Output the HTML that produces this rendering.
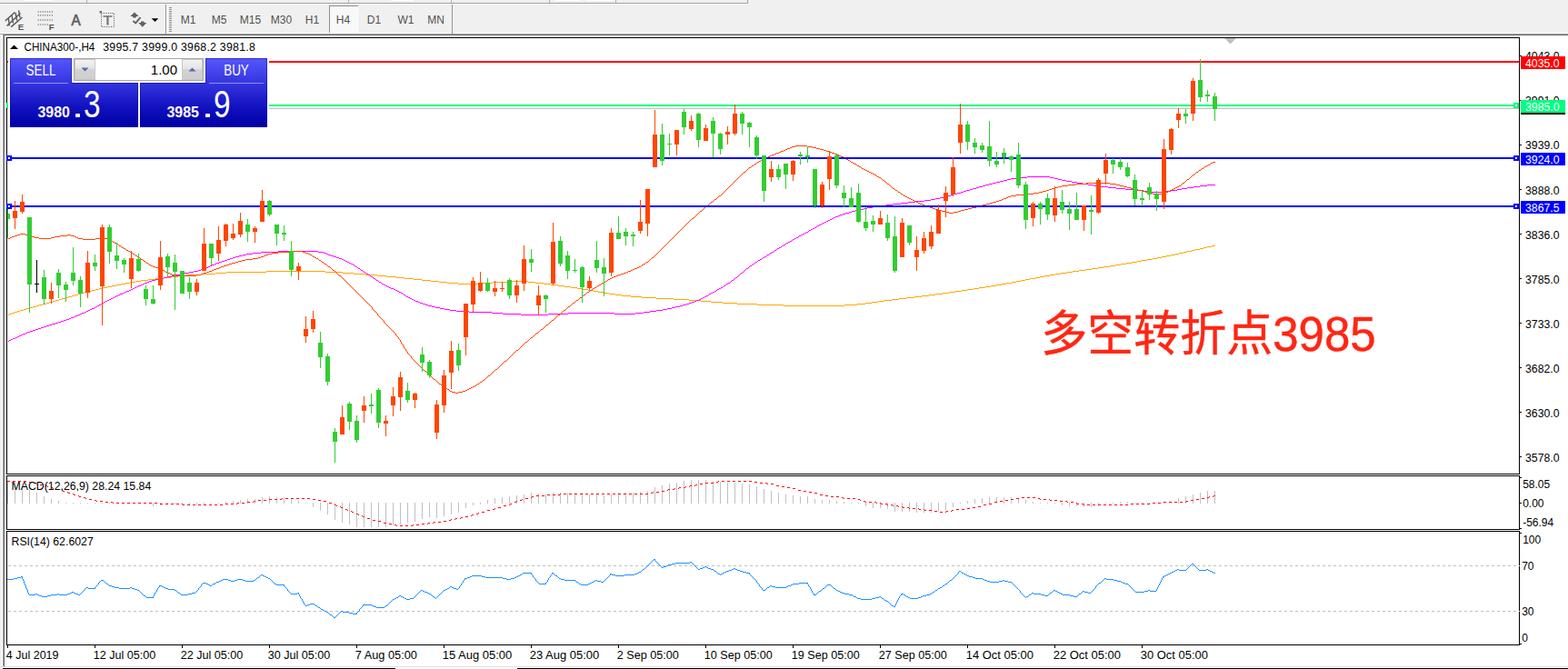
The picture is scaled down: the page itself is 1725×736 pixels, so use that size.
<!DOCTYPE html>
<html><head><meta charset="utf-8"><title>CHINA300 H4</title>
<style>
html,body{margin:0;padding:0;background:#fff;}
body{width:1725px;height:736px;position:relative;overflow:hidden;font-family:"Liberation Sans",sans-serif;}
.abs{position:absolute;}
.pane{position:absolute;left:7px;width:1665px;box-sizing:border-box;border:1px solid #000;background:#fff;}
.blu{background:linear-gradient(#5656fb 0%,#4646ee 18%,#2c2cd8 45%,#1212c0 70%,#0000a4 100%);background-size:100% 76px;background-repeat:no-repeat;color:#fff;}
</style></head><body>
<div class="abs" style="left:0;top:0;width:1725px;height:37px;background:#f0f0f0"></div>
<div class="abs" style="left:0;top:36px;width:1725px;height:1px;background:#fbfbfb"></div>
<div class="abs" style="left:0;top:37px;width:1725px;height:1px;background:#a0a0a0"></div>
<div class="abs" style="left:0;top:39px;width:2px;height:697px;background:#f0f0f0"></div>
<div class="abs" style="left:4px;top:38px;width:1721px;height:1px;background:#696969"></div>
<div class="abs" style="left:3px;top:38px;width:1px;height:695px;background:#a0a0a0"></div>
<div class="abs" style="left:4px;top:38px;width:1px;height:695px;background:#696969"></div>
<div class="abs" style="left:0;top:733px;width:1725px;height:1px;background:#e0e0e0"></div>
<div class="abs" style="left:3px;top:735px;width:432px;height:1px;background:#000"></div>
<div class="abs" style="left:569px;top:735px;width:1156px;height:1px;background:#000"></div>
<svg width="1725" height="37" viewBox="0 0 1725 37" style="position:absolute;left:0;top:0"><g stroke="#585858" stroke-width="1.4" fill="none"><path d="M5.7 23.1L16.3 13.5M7.5 28.5L22.5 14.5M12.2 29.6L24.5 19M9.3 20L10.3 28.5M13 17L14.5 25.5M17 14L18.6 22.5M20.6 11.3L22 19.5"/></g><text x="19.8" y="32.6" font-family="Liberation Sans, sans-serif" font-weight="bold" font-size="9.6px" fill="#505050">E</text><g stroke="#707070" stroke-width="1.5" stroke-dasharray="1 1.53" fill="none"><path d="M41.7 12.9H58.5M41.7 16.8H58.5M41.7 21.9H58.5M41.7 27H53.5"/></g><text x="53.8" y="32.6" font-family="Liberation Sans, sans-serif" font-weight="bold" font-size="9.6px" fill="#505050">F</text><text x="0" y="0" transform="translate(78.4,27.6) scale(0.93,1)" font-family="Liberation Sans, sans-serif" font-size="16.4px" fill="#606060" stroke="#606060" stroke-width="0.7">A</text><rect x="111.5" y="14.5" width="14" height="15" fill="none" stroke="#505050" stroke-width="1" stroke-dasharray="1 1.42"/><path d="M113.5 17.2H123.5V18.8H119.5V27.5H117.4V18.8H113.5Z" fill="#707070"/><rect x="109.5" y="12" width="2.5" height="2.5" fill="#707070"/><path d="M148 13.5L152.7 18H149.8V19.6H146.2V18H143.3Z" fill="#606060"/><path d="M156.8 29.8L152.3 25H155V23.6H158.6V25H161.3Z" fill="#606060"/><path d="M146.4 23L149.2 25.4L154.5 19.1" stroke="#606060" stroke-width="1.8" fill="none"/><path d="M166.7 20.2H174.3L170.5 24Z" fill="#000"/><rect x="182" y="5" width="1" height="32" fill="#909090"/><rect x="183" y="5" width="1" height="32" fill="#fff"/><path d="M187.5 8V35" stroke="#909090" stroke-width="3" stroke-dasharray="1 1" shape-rendering="crispEdges"/><rect x="497" y="5" width="1" height="32" fill="#909090"/><rect x="498" y="5" width="1" height="32" fill="#fff"/><g shape-rendering="crispEdges"><rect x="363" y="7" width="30" height="28" fill="#f8f8f8"/><rect x="362" y="6" width="1" height="30" fill="#909090"/><rect x="362" y="6" width="32" height="1" fill="#909090"/><rect x="393" y="7" width="1" height="29" fill="#fff"/><rect x="363" y="35" width="31" height="1" fill="#fff"/></g><g font-family="Liberation Sans, sans-serif" font-size="12px" fill="#505050" text-anchor="middle"><text x="207" y="26">M1</text><text x="241" y="26">M5</text><text x="275.5" y="26">M15</text><text x="309.5" y="26">M30</text><text x="343.5" y="26">H1</text><text x="377.5" y="26">H4</text><text x="411.5" y="26">D1</text><text x="446.5" y="26">W1</text><text x="479.5" y="26">MN</text></g><g shape-rendering="crispEdges"><rect x="0" y="3" width="823" height="1" fill="#a0a0a0"/><rect x="0" y="4" width="823" height="1" fill="#fafafa"/><rect x="822" y="0" width="1" height="4" fill="#a0a0a0"/><rect x="26" y="0" width="32" height="1" fill="#fff"/><rect x="430" y="0" width="26" height="1" fill="#fff"/><rect x="609" y="0" width="30" height="1" fill="#fff"/><rect x="644" y="0" width="30" height="1" fill="#fff"/><rect x="95" y="0" width="1" height="3" fill="#b0b0b0"/><rect x="383" y="0" width="1" height="3" fill="#b0b0b0"/><rect x="496" y="0" width="1" height="3" fill="#b0b0b0"/><rect x="604" y="0" width="1" height="3" fill="#b0b0b0"/><rect x="677" y="0" width="1" height="3" fill="#b0b0b0"/></g></svg>
<div class="pane" style="top:41px;height:481px"></div>
<div class="pane" style="top:523px;height:60px"></div>
<div class="pane" style="top:584px;height:126px"></div>
<svg width="1725" height="736" viewBox="0 0 1725 736" style="position:absolute;left:0;top:0"><defs><clipPath id="cm"><rect x="8" y="42" width="1663" height="479"/></clipPath><clipPath id="cd"><rect x="8" y="524" width="1663" height="58"/></clipPath><clipPath id="cr"><rect x="8" y="585" width="1663" height="124"/></clipPath></defs><g clip-path="url(#cm)" fill="none" stroke-width="1" shape-rendering="crispEdges"><path d="M9 346h1v1h-1zM10 345h3v1h-3zM13 344h3v1h-3zM16 343h3v1h-3zM19 342h3v1h-3zM22 341h4v1h-4zM26 340h3v1h-3zM29 339h3v1h-3zM32 338h4v1h-4zM36 337h4v1h-4zM40 336h3v1h-3zM43 335h4v1h-4zM47 334h4v1h-4zM51 333h3v1h-3zM54 332h4v1h-4zM58 331h3v1h-3zM61 330h4v1h-4zM65 329h3v1h-3zM68 328h4v1h-4zM72 327h3v1h-3zM75 326h4v1h-4zM79 325h3v1h-3zM82 324h4v1h-4zM86 323h3v1h-3zM89 322h4v1h-4zM93 321h4v1h-4zM97 320h4v1h-4zM101 319h4v1h-4zM105 318h4v1h-4zM109 317h4v1h-4zM113 316h5v1h-5zM118 315h5v1h-5zM123 314h5v1h-5zM128 313h5v1h-5zM133 312h5v1h-5zM138 311h5v1h-5zM143 310h6v1h-6zM149 309h6v1h-6zM155 308h8v1h-8zM163 307h8v1h-8zM171 306h9v1h-9zM180 305h8v1h-8zM188 304h8v1h-8zM196 303h9v1h-9zM205 302h16v1h-16zM221 301h16v1h-16zM237 300h12v1h-12zM249 299h44v1h-44zM293 298h65v1h-65zM358 299h19v1h-19zM377 300h12v1h-12zM389 301h13v1h-13zM402 302h13v1h-13zM415 303h10v1h-10zM425 304h11v1h-11zM436 305h9v1h-9zM445 306h10v1h-10zM455 307h9v1h-9zM464 308h10v1h-10zM474 309h9v1h-9zM483 310h9v1h-9zM492 311h12v1h-12zM504 312h24v1h-24zM528 311h14v1h-14zM542 310h17v1h-17zM559 309h22v1h-22zM581 310h8v1h-8zM589 311h9v1h-9zM598 312h8v1h-8zM606 313h8v1h-8zM614 314h7v1h-7zM621 315h7v1h-7zM628 316h7v1h-7zM635 317h6v1h-6zM641 318h6v1h-6zM647 319h6v1h-6zM653 320h5v1h-5zM658 321h6v1h-6zM664 322h6v1h-6zM670 323h7v1h-7zM677 324h7v1h-7zM684 325h10v1h-10zM694 326h12v1h-12zM706 327h16v1h-16zM722 328h19v1h-19zM741 329h17v1h-17zM758 330h13v1h-13zM771 331h11v1h-11zM782 332h13v1h-13zM795 333h16v1h-16zM811 334h22v1h-22zM833 335h29v1h-29zM862 336h67v1h-67zM929 335h14v1h-14zM943 334h9v1h-9zM952 333h7v1h-7zM959 332h7v1h-7zM966 331h7v1h-7zM973 330h8v1h-8zM981 329h8v1h-8zM989 328h8v1h-8zM997 327h9v1h-9zM1006 326h8v1h-8zM1014 325h8v1h-8zM1022 324h7v1h-7zM1029 323h8v1h-8zM1037 322h7v1h-7zM1044 321h7v1h-7zM1051 320h7v1h-7zM1058 319h6v1h-6zM1064 318h7v1h-7zM1071 317h6v1h-6zM1077 316h7v1h-7zM1084 315h6v1h-6zM1090 314h6v1h-6zM1096 313h6v1h-6zM1102 312h5v1h-5zM1107 311h6v1h-6zM1113 310h5v1h-5zM1118 309h5v1h-5zM1123 308h5v1h-5zM1128 307h5v1h-5zM1133 306h6v1h-6zM1139 305h5v1h-5zM1144 304h5v1h-5zM1149 303h6v1h-6zM1155 302h6v1h-6zM1161 301h6v1h-6zM1167 300h7v1h-7zM1174 299h6v1h-6zM1180 298h7v1h-7zM1187 297h7v1h-7zM1194 296h7v1h-7zM1201 295h7v1h-7zM1208 294h6v1h-6zM1214 293h7v1h-7zM1221 292h6v1h-6zM1227 291h6v1h-6zM1233 290h6v1h-6zM1239 289h6v1h-6zM1245 288h6v1h-6zM1251 287h5v1h-5zM1256 286h6v1h-6zM1262 285h6v1h-6zM1268 284h5v1h-5zM1273 283h5v1h-5zM1278 282h5v1h-5zM1283 281h5v1h-5zM1288 280h5v1h-5zM1293 279h4v1h-4zM1297 278h5v1h-5zM1302 277h4v1h-4zM1306 276h5v1h-5zM1311 275h4v1h-4zM1315 274h5v1h-5zM1320 273h4v1h-4zM1324 272h4v1h-4zM1328 271h5v1h-5zM1333 270h4v1h-4z" fill="#ffa500" stroke="none"/><path d="M9 375h1v1h-1zM10 374h2v1h-2zM12 373h2v1h-2zM14 372h3v1h-3zM17 371h2v1h-2zM19 370h2v1h-2zM21 369h2v1h-2zM23 368h2v1h-2zM25 367h3v1h-3zM28 366h2v1h-2zM30 365h3v1h-3zM33 364h3v1h-3zM36 363h3v1h-3zM39 362h3v1h-3zM42 361h3v1h-3zM45 360h3v1h-3zM48 359h3v1h-3zM51 358h3v1h-3zM54 357h3v1h-3zM57 356h4v1h-4zM61 355h3v1h-3zM64 354h3v1h-3zM67 353h3v1h-3zM70 352h3v1h-3zM73 351h3v1h-3zM76 350h2v1h-2zM78 349h3v1h-3zM81 348h2v1h-2zM83 347h3v1h-3zM86 346h2v1h-2zM88 345h2v1h-2zM90 344h3v1h-3zM93 343h2v1h-2zM95 342h2v1h-2zM97 341h2v1h-2zM99 340h2v1h-2zM101 339h3v1h-3zM104 338h1v1h-1zM105 337h2v1h-2zM107 336h2v1h-2zM109 335h2v1h-2zM111 334h2v1h-2zM113 333h1v1h-1zM114 332h2v1h-2zM116 331h2v1h-2zM118 330h2v1h-2zM120 329h2v1h-2zM122 328h2v1h-2zM124 327h2v1h-2zM126 326h2v1h-2zM128 325h2v1h-2zM130 324h2v1h-2zM132 323h3v1h-3zM135 322h2v1h-2zM137 321h2v1h-2zM139 320h3v1h-3zM142 319h2v1h-2zM144 318h2v1h-2zM146 317h2v1h-2zM148 316h2v1h-2zM150 315h2v1h-2zM152 314h3v1h-3zM155 313h2v1h-2zM157 312h2v1h-2zM159 311h3v1h-3zM162 310h2v1h-2zM164 309h3v1h-3zM167 308h4v1h-4zM171 307h4v1h-4zM175 306h5v1h-5zM180 305h4v1h-4zM184 304h5v1h-5zM189 303h4v1h-4zM193 302h5v1h-5zM198 301h5v1h-5zM203 300h5v1h-5zM208 299h5v1h-5zM213 298h5v1h-5zM218 297h3v1h-3zM221 296h3v1h-3zM224 295h3v1h-3zM227 294h2v1h-2zM229 293h2v1h-2zM231 292h2v1h-2zM233 291h3v1h-3zM236 290h2v1h-2zM238 289h3v1h-3zM241 288h3v1h-3zM244 287h3v1h-3zM247 286h3v1h-3zM250 285h3v1h-3zM253 284h3v1h-3zM256 283h3v1h-3zM259 282h4v1h-4zM263 281h4v1h-4zM267 280h4v1h-4zM271 279h7v1h-7zM278 278h9v1h-9zM287 277h19v1h-19zM306 276h44v1h-44zM350 277h6v1h-6zM356 278h3v1h-3zM359 279h2v1h-2zM361 280h3v1h-3zM364 281h3v1h-3zM367 282h3v1h-3zM370 283h3v1h-3zM373 284h3v1h-3zM376 285h2v1h-2zM378 286h2v1h-2zM380 287h2v1h-2zM382 288h2v1h-2zM384 289h2v1h-2zM386 290h2v1h-2zM388 291h2v1h-2zM390 292h1v1h-1zM391 293h2v1h-2zM393 294h1v1h-1zM394 295h2v1h-2zM396 296h1v1h-1zM397 297h2v1h-2zM399 298h1v1h-1zM400 299h2v1h-2zM402 300h1v1h-1zM403 301h2v1h-2zM405 302h2v1h-2zM407 303h1v1h-1zM408 304h2v1h-2zM410 305h1v1h-1zM411 306h2v1h-2zM413 307h1v1h-1zM414 308h2v1h-2zM416 309h1v1h-1zM417 310h2v1h-2zM419 311h1v1h-1zM420 312h2v1h-2zM422 313h2v1h-2zM424 314h2v1h-2zM426 315h2v1h-2zM428 316h2v1h-2zM430 317h3v1h-3zM433 318h2v1h-2zM435 319h2v1h-2zM437 320h2v1h-2zM439 321h2v1h-2zM441 322h2v1h-2zM443 323h1v1h-1zM444 324h2v1h-2zM446 325h1v1h-1zM447 326h2v1h-2zM449 327h2v1h-2zM451 328h2v1h-2zM453 329h2v1h-2zM455 330h2v1h-2zM457 331h3v1h-3zM460 332h2v1h-2zM462 333h3v1h-3zM465 334h3v1h-3zM468 335h3v1h-3zM471 336h4v1h-4zM475 337h4v1h-4zM479 338h5v1h-5zM484 339h5v1h-5zM489 340h6v1h-6zM495 341h7v1h-7zM502 342h14v1h-14zM516 343h25v1h-25zM541 344h12v1h-12zM553 345h20v1h-20zM573 346h30v1h-30zM603 345h22v1h-22zM625 344h51v1h-51zM676 345h23v1h-23zM699 344h9v1h-9zM708 343h7v1h-7zM715 342h7v1h-7zM722 341h7v1h-7zM729 340h5v1h-5zM734 339h5v1h-5zM739 338h4v1h-4zM743 337h5v1h-5zM748 336h3v1h-3zM751 335h4v1h-4zM755 334h3v1h-3zM758 333h3v1h-3zM761 332h3v1h-3zM764 331h2v1h-2zM766 330h3v1h-3zM769 329h2v1h-2zM771 328h2v1h-2zM773 327h2v1h-2zM775 326h2v1h-2zM777 325h2v1h-2zM779 324h1v1h-1zM780 323h2v1h-2zM782 322h2v1h-2zM784 321h2v1h-2zM786 320h2v1h-2zM788 319h1v1h-1zM789 318h2v1h-2zM791 317h2v1h-2zM793 316h2v1h-2zM795 315h1v1h-1zM796 314h2v1h-2zM798 313h1v1h-1zM799 312h2v1h-2zM801 311h2v1h-2zM803 310h1v1h-1zM804 309h1v1h-1zM805 308h2v1h-2zM807 307h1v1h-1zM808 306h1v1h-1zM809 305h2v1h-2zM811 304h1v1h-1zM812 303h1v1h-1zM813 302h1v1h-1zM814 301h1v1h-1zM815 300h2v1h-2zM817 299h1v1h-1zM818 298h1v1h-1zM819 297h1v1h-1zM820 296h1v1h-1zM821 295h2v1h-2zM823 294h1v1h-1zM824 293h1v1h-1zM825 292h2v1h-2zM827 291h1v1h-1zM828 290h2v1h-2zM830 289h1v1h-1zM831 288h2v1h-2zM833 287h1v1h-1zM834 286h2v1h-2zM836 285h2v1h-2zM838 284h1v1h-1zM839 283h2v1h-2zM841 282h2v1h-2zM843 281h1v1h-1zM844 280h2v1h-2zM846 279h1v1h-1zM847 278h2v1h-2zM849 277h2v1h-2zM851 276h1v1h-1zM852 275h2v1h-2zM854 274h1v1h-1zM855 273h2v1h-2zM857 272h2v1h-2zM859 271h1v1h-1zM860 270h2v1h-2zM862 269h2v1h-2zM864 268h1v1h-1zM865 267h2v1h-2zM867 266h2v1h-2zM869 265h2v1h-2zM871 264h1v1h-1zM872 263h2v1h-2zM874 262h2v1h-2zM876 261h2v1h-2zM878 260h1v1h-1zM879 259h2v1h-2zM881 258h2v1h-2zM883 257h2v1h-2zM885 256h2v1h-2zM887 255h2v1h-2zM889 254h1v1h-1zM890 253h2v1h-2zM892 252h2v1h-2zM894 251h2v1h-2zM896 250h2v1h-2zM898 249h1v1h-1zM899 248h2v1h-2zM901 247h2v1h-2zM903 246h2v1h-2zM905 245h2v1h-2zM907 244h2v1h-2zM909 243h2v1h-2zM911 242h2v1h-2zM913 241h2v1h-2zM915 240h2v1h-2zM917 239h2v1h-2zM919 238h3v1h-3zM922 237h2v1h-2zM924 236h3v1h-3zM927 235h3v1h-3zM930 234h4v1h-4zM934 233h3v1h-3zM937 232h4v1h-4zM941 231h4v1h-4zM945 230h5v1h-5zM950 229h4v1h-4zM954 228h6v1h-6zM960 227h7v1h-7zM967 226h8v1h-8zM975 225h7v1h-7zM982 224h9v1h-9zM991 223h8v1h-8zM999 222h8v1h-8zM1007 221h10v1h-10zM1017 220h7v1h-7zM1024 219h5v1h-5zM1029 218h5v1h-5zM1034 217h4v1h-4zM1038 216h4v1h-4zM1042 215h4v1h-4zM1046 214h3v1h-3zM1049 213h4v1h-4zM1053 212h4v1h-4zM1057 211h3v1h-3zM1060 210h3v1h-3zM1063 209h4v1h-4zM1067 208h3v1h-3zM1070 207h4v1h-4zM1074 206h3v1h-3zM1077 205h4v1h-4zM1081 204h3v1h-3zM1084 203h4v1h-4zM1088 202h4v1h-4zM1092 201h4v1h-4zM1096 200h4v1h-4zM1100 199h4v1h-4zM1104 198h4v1h-4zM1108 197h4v1h-4zM1112 196h7v1h-7zM1119 195h11v1h-11zM1130 194h25v1h-25zM1155 195h5v1h-5zM1160 196h4v1h-4zM1164 197h4v1h-4zM1168 198h5v1h-5zM1173 199h6v1h-6zM1179 200h6v1h-6zM1185 201h6v1h-6zM1191 202h6v1h-6zM1197 203h6v1h-6zM1203 204h7v1h-7zM1210 205h9v1h-9zM1219 206h9v1h-9zM1228 207h10v1h-10zM1238 208h10v1h-10zM1248 209h10v1h-10zM1258 210h6v1h-6zM1264 211h18v1h-18zM1282 210h6v1h-6zM1288 209h7v1h-7zM1295 208h5v1h-5zM1300 207h6v1h-6zM1306 206h7v1h-7zM1313 205h7v1h-7zM1320 204h8v1h-8zM1328 203h9v1h-9z" fill="#ff00ff" stroke="none"/><path d="M9 262h2v1h-2zM11 261h2v1h-2zM13 260h3v1h-3zM16 259h3v1h-3zM19 258h3v1h-3zM22 257h6v1h-6zM28 258h3v1h-3zM31 259h3v1h-3zM34 260h4v1h-4zM38 261h5v1h-5zM43 262h13v1h-13zM56 261h4v1h-4zM60 260h6v1h-6zM66 259h8v1h-8zM74 258h4v1h-4zM78 259h4v1h-4zM82 260h2v1h-2zM84 261h2v1h-2zM86 262h5v1h-5zM91 263h14v1h-14zM105 262h14v1h-14zM119 263h2v1h-2zM121 264h2v1h-2zM123 265h1v1h-1zM124 266h2v1h-2zM126 267h2v1h-2zM128 268h2v1h-2zM130 269h1v1h-1zM131 270h2v1h-2zM133 271h1v1h-1zM134 272h2v1h-2zM136 273h2v1h-2zM138 274h1v1h-1zM139 275h2v1h-2zM141 276h2v1h-2zM143 277h2v1h-2zM145 278h1v1h-1zM146 279h2v1h-2zM148 280h1v1h-1zM149 281h2v1h-2zM151 282h2v1h-2zM153 283h1v1h-1zM154 284h1v1h-1zM155 285h2v1h-2zM157 286h1v1h-1zM158 287h2v1h-2zM160 288h1v1h-1zM161 289h2v1h-2zM163 290h1v1h-1zM164 291h2v1h-2zM166 292h2v1h-2zM168 293h3v1h-3zM171 294h3v1h-3zM174 295h3v1h-3zM177 296h2v1h-2zM179 297h2v1h-2zM181 298h1v1h-1zM182 299h2v1h-2zM184 300h3v1h-3zM187 301h2v1h-2zM189 302h4v1h-4zM193 303h23v1h-23zM216 302h5v1h-5zM221 301h3v1h-3zM224 300h3v1h-3zM227 299h3v1h-3zM230 298h3v1h-3zM233 297h2v1h-2zM235 296h3v1h-3zM238 295h3v1h-3zM241 294h2v1h-2zM243 293h3v1h-3zM246 292h3v1h-3zM249 291h3v1h-3zM252 290h3v1h-3zM255 289h4v1h-4zM259 288h3v1h-3zM262 287h4v1h-4zM266 286h4v1h-4zM270 285h8v1h-8zM278 284h6v1h-6zM284 283h3v1h-3zM287 282h3v1h-3zM290 281h2v1h-2zM292 280h3v1h-3zM295 279h4v1h-4zM299 278h7v1h-7zM306 277h13v1h-13zM319 276h14v1h-14zM333 277h3v1h-3zM336 278h3v1h-3zM339 279h2v1h-2zM341 280h2v1h-2zM343 281h1v1h-1zM344 282h2v1h-2zM346 283h2v1h-2zM348 284h2v1h-2zM350 285h1v1h-1zM351 286h2v1h-2zM353 287h1v1h-1zM354 288h2v1h-2zM356 289h1v1h-1zM357 290h2v1h-2zM359 291h1v1h-1zM360 292h1v1h-1zM361 293h2v1h-2zM363 294h1v1h-1zM364 295h1v1h-1zM365 296h1v1h-1zM366 297h2v1h-2zM368 298h1v1h-1zM369 299h1v1h-1zM370 300h1v1h-1zM371 301h1v1h-1zM372 302h1v1h-1zM373 303h2v1h-2zM375 304h1v1h-1zM376 305h1v1h-1zM377 306h1v1h-1zM378 307h1v1h-1zM379 308h1v1h-1zM380 309h1v1h-1zM381 310h1v1h-1zM382 311h1v1h-1zM383 312h1v1h-1zM384 313h1v1h-1zM385 314h1v1h-1zM386 315h1v1h-1zM387 316h1v1h-1zM388 317h1v1h-1zM389 318h1v1h-1zM390 319h1v1h-1zM391 320h1v1h-1zM392 321h1v1h-1zM393 322h1v1h-1zM394 323h1v1h-1zM395 324h1v1h-1zM396 325h1v1h-1zM397 326h1v1h-1zM398 327h1v1h-1zM399 328h1v1h-1zM400 329h1v1h-1zM401 330h1v1h-1zM402 331h1v1h-1zM403 332h1v1h-1zM404 333h1v1h-1zM405 334h1v1h-1zM406 335h1v1h-1zM407 336h1v1h-1zM408 337h1v1h-1zM409 338h1v2h-1zM410 340h1v1h-1zM411 341h1v1h-1zM412 342h1v1h-1zM413 343h1v1h-1zM414 344h1v1h-1zM415 345h1v2h-1zM416 347h1v1h-1zM417 348h1v1h-1zM418 349h1v1h-1zM419 350h1v1h-1zM420 351h1v1h-1zM421 352h1v1h-1zM422 353h1v2h-1zM423 355h1v1h-1zM424 356h1v1h-1zM425 357h1v1h-1zM426 358h1v1h-1zM427 359h1v1h-1zM428 360h1v1h-1zM429 361h1v1h-1zM430 362h1v1h-1zM431 363h1v1h-1zM432 364h1v1h-1zM433 365h1v1h-1zM434 366h1v1h-1zM435 367h1v2h-1zM436 369h1v1h-1zM437 370h1v1h-1zM438 371h1v2h-1zM439 373h1v1h-1zM440 374h1v2h-1zM441 376h1v2h-1zM442 378h1v1h-1zM443 379h1v2h-1zM444 381h1v2h-1zM445 383h1v1h-1zM446 384h1v2h-1zM447 386h1v1h-1zM448 387h1v2h-1zM449 389h1v1h-1zM450 390h1v1h-1zM451 391h1v1h-1zM452 392h1v2h-1zM453 394h1v1h-1zM454 395h1v1h-1zM455 396h1v1h-1zM456 397h1v1h-1zM457 398h1v1h-1zM458 399h1v1h-1zM459 400h1v1h-1zM460 401h1v1h-1zM461 402h1v1h-1zM462 403h1v1h-1zM463 404h1v1h-1zM464 405h1v1h-1zM465 406h1v1h-1zM466 407h1v1h-1zM467 408h2v1h-2zM469 409h1v1h-1zM470 410h1v1h-1zM471 411h1v1h-1zM472 412h1v1h-1zM473 413h1v1h-1zM474 414h1v1h-1zM475 415h1v1h-1zM476 416h1v1h-1zM477 417h2v1h-2zM479 418h1v1h-1zM480 419h1v1h-1zM481 420h1v1h-1zM482 421h1v1h-1zM483 422h2v1h-2zM485 423h1v1h-1zM486 424h1v1h-1zM487 425h2v1h-2zM489 426h1v1h-1zM490 427h2v1h-2zM492 428h2v1h-2zM494 429h1v1h-1zM495 430h2v1h-2zM497 431h4v1h-4zM501 432h3v1h-3zM504 431h5v1h-5zM509 430h3v1h-3zM512 429h2v1h-2zM514 428h2v1h-2zM516 427h2v1h-2zM518 426h2v1h-2zM520 425h2v1h-2zM522 424h2v1h-2zM524 423h1v1h-1zM525 422h2v1h-2zM527 421h1v1h-1zM528 420h2v1h-2zM530 419h1v1h-1zM531 418h2v1h-2zM533 417h1v1h-1zM534 416h1v1h-1zM535 415h1v1h-1zM536 414h1v1h-1zM537 413h2v1h-2zM539 412h1v1h-1zM540 411h1v1h-1zM541 410h1v1h-1zM542 409h1v1h-1zM543 408h1v1h-1zM544 407h1v1h-1zM545 406h2v1h-2zM547 405h1v1h-1zM548 404h1v1h-1zM549 403h1v1h-1zM550 402h1v1h-1zM551 401h1v1h-1zM552 400h1v1h-1zM553 399h1v1h-1zM554 398h1v1h-1zM555 397h2v1h-2zM557 396h1v1h-1zM558 395h1v1h-1zM559 394h1v1h-1zM560 393h1v1h-1zM561 392h1v1h-1zM562 391h1v1h-1zM563 390h1v1h-1zM564 389h1v1h-1zM565 388h1v1h-1zM566 387h1v1h-1zM567 386h1v1h-1zM568 385h2v1h-2zM570 384h1v1h-1zM571 383h1v1h-1zM572 382h1v1h-1zM573 381h1v1h-1zM574 380h1v1h-1zM575 379h1v1h-1zM576 378h1v1h-1zM577 377h1v1h-1zM578 376h2v1h-2zM580 375h1v1h-1zM581 374h1v1h-1zM582 373h1v1h-1zM583 372h1v1h-1zM584 371h2v1h-2zM586 370h1v1h-1zM587 369h1v1h-1zM588 368h1v1h-1zM589 367h1v1h-1zM590 366h2v1h-2zM592 365h1v1h-1zM593 364h1v1h-1zM594 363h1v1h-1zM595 362h2v1h-2zM597 361h1v1h-1zM598 360h1v1h-1zM599 359h1v1h-1zM600 358h1v1h-1zM601 357h2v1h-2zM603 356h1v1h-1zM604 355h1v1h-1zM605 354h1v1h-1zM606 353h1v1h-1zM607 352h2v1h-2zM609 351h1v1h-1zM610 350h1v1h-1zM611 349h1v1h-1zM612 348h1v1h-1zM613 347h1v1h-1zM614 346h2v1h-2zM616 345h1v1h-1zM617 344h1v1h-1zM618 343h1v1h-1zM619 342h1v1h-1zM620 341h2v1h-2zM622 340h1v1h-1zM623 339h1v1h-1zM624 338h1v1h-1zM625 337h2v1h-2zM627 336h1v1h-1zM628 335h1v1h-1zM629 334h1v1h-1zM630 333h2v1h-2zM632 332h1v1h-1zM633 331h1v1h-1zM634 330h2v1h-2zM636 329h1v1h-1zM637 328h1v1h-1zM638 327h2v1h-2zM640 326h1v1h-1zM641 325h1v1h-1zM642 324h2v1h-2zM644 323h1v1h-1zM645 322h1v1h-1zM646 321h2v1h-2zM648 320h1v1h-1zM649 319h2v1h-2zM651 318h1v1h-1zM652 317h2v1h-2zM654 316h2v1h-2zM656 315h1v1h-1zM657 314h2v1h-2zM659 313h2v1h-2zM661 312h1v1h-1zM662 311h2v1h-2zM664 310h2v1h-2zM666 309h2v1h-2zM668 308h1v1h-1zM669 307h2v1h-2zM671 306h2v1h-2zM673 305h2v1h-2zM675 304h3v1h-3zM678 303h2v1h-2zM680 302h3v1h-3zM683 301h3v1h-3zM686 300h3v1h-3zM689 299h2v1h-2zM691 298h3v1h-3zM694 297h2v1h-2zM696 296h2v1h-2zM698 295h3v1h-3zM701 294h2v1h-2zM703 293h2v1h-2zM705 292h1v1h-1zM706 291h2v1h-2zM708 290h2v1h-2zM710 289h1v1h-1zM711 288h2v1h-2zM713 287h1v1h-1zM714 286h1v1h-1zM715 285h1v1h-1zM716 284h1v1h-1zM717 283h2v1h-2zM719 282h1v1h-1zM720 281h1v1h-1zM721 280h1v1h-1zM722 279h1v1h-1zM723 278h1v1h-1zM724 277h1v1h-1zM725 276h1v1h-1zM726 275h1v1h-1zM727 274h1v1h-1zM728 273h1v1h-1zM729 272h1v1h-1zM730 271h1v1h-1zM731 270h1v1h-1zM732 269h1v1h-1zM733 268h1v1h-1zM734 267h1v1h-1zM735 266h1v1h-1zM736 265h1v1h-1zM737 264h1v1h-1zM738 263h1v1h-1zM739 262h1v1h-1zM740 261h1v1h-1zM741 260h1v1h-1zM742 259h1v1h-1zM743 258h1v1h-1zM744 257h1v1h-1zM745 256h1v1h-1zM746 255h1v1h-1zM747 254h1v1h-1zM748 253h1v1h-1zM749 252h1v1h-1zM750 251h1v1h-1zM751 250h1v1h-1zM752 249h1v1h-1zM753 248h1v1h-1zM754 247h1v1h-1zM755 246h1v1h-1zM756 245h1v1h-1zM757 244h1v1h-1zM758 243h1v1h-1zM759 242h1v1h-1zM760 241h1v1h-1zM761 240h2v1h-2zM763 239h1v1h-1zM764 238h1v1h-1zM765 237h1v1h-1zM766 236h1v1h-1zM767 235h1v1h-1zM768 234h1v1h-1zM769 233h1v1h-1zM770 232h2v1h-2zM772 231h1v1h-1zM773 230h1v1h-1zM774 229h1v1h-1zM775 228h1v1h-1zM776 227h1v1h-1zM777 226h2v1h-2zM779 225h1v1h-1zM780 224h1v1h-1zM781 223h1v1h-1zM782 222h2v1h-2zM784 221h1v1h-1zM785 220h1v1h-1zM786 219h2v1h-2zM788 218h1v1h-1zM789 217h1v1h-1zM790 216h1v1h-1zM791 215h2v1h-2zM793 214h1v1h-1zM794 213h1v1h-1zM795 212h1v1h-1zM796 211h1v1h-1zM797 210h1v1h-1zM798 209h1v1h-1zM799 208h1v1h-1zM800 207h1v1h-1zM801 206h1v1h-1zM802 205h1v1h-1zM803 204h1v1h-1zM804 203h1v1h-1zM805 202h1v1h-1zM806 201h1v1h-1zM807 200h1v1h-1zM808 199h1v1h-1zM809 198h1v1h-1zM810 197h1v1h-1zM811 196h1v1h-1zM812 195h1v1h-1zM813 194h1v1h-1zM814 193h1v1h-1zM815 192h1v1h-1zM816 191h1v1h-1zM817 190h1v1h-1zM818 189h2v1h-2zM820 188h1v1h-1zM821 187h1v1h-1zM822 186h1v1h-1zM823 185h1v1h-1zM824 184h2v1h-2zM826 183h1v1h-1zM827 182h2v1h-2zM829 181h1v1h-1zM830 180h2v1h-2zM832 179h1v1h-1zM833 178h2v1h-2zM835 177h2v1h-2zM837 176h2v1h-2zM839 175h2v1h-2zM841 174h2v1h-2zM843 173h2v1h-2zM845 172h2v1h-2zM847 171h2v1h-2zM849 170h3v1h-3zM852 169h2v1h-2zM854 168h3v1h-3zM857 167h2v1h-2zM859 166h3v1h-3zM862 165h2v1h-2zM864 164h2v1h-2zM866 163h3v1h-3zM869 162h2v1h-2zM871 161h4v1h-4zM875 160h13v1h-13zM888 161h6v1h-6zM894 162h4v1h-4zM898 163h4v1h-4zM902 164h4v1h-4zM906 165h3v1h-3zM909 166h3v1h-3zM912 167h3v1h-3zM915 168h3v1h-3zM918 169h3v1h-3zM921 170h2v1h-2zM923 171h2v1h-2zM925 172h3v1h-3zM928 173h1v1h-1zM929 174h2v1h-2zM931 175h2v1h-2zM933 176h2v1h-2zM935 177h1v1h-1zM936 178h2v1h-2zM938 179h2v1h-2zM940 180h2v1h-2zM942 181h1v1h-1zM943 182h2v1h-2zM945 183h2v1h-2zM947 184h1v1h-1zM948 185h2v1h-2zM950 186h2v1h-2zM952 187h2v1h-2zM954 188h2v1h-2zM956 189h2v1h-2zM958 190h2v1h-2zM960 191h2v1h-2zM962 192h2v1h-2zM964 193h1v1h-1zM965 194h2v1h-2zM967 195h2v1h-2zM969 196h1v1h-1zM970 197h1v1h-1zM971 198h2v1h-2zM973 199h1v1h-1zM974 200h1v1h-1zM975 201h1v1h-1zM976 202h2v1h-2zM978 203h1v1h-1zM979 204h1v1h-1zM980 205h1v1h-1zM981 206h1v1h-1zM982 207h2v1h-2zM984 208h1v1h-1zM985 209h2v1h-2zM987 210h1v1h-1zM988 211h2v1h-2zM990 212h1v1h-1zM991 213h2v1h-2zM993 214h1v1h-1zM994 215h2v1h-2zM996 216h2v1h-2zM998 217h2v1h-2zM1000 218h2v1h-2zM1002 219h2v1h-2zM1004 220h2v1h-2zM1006 221h2v1h-2zM1008 222h2v1h-2zM1010 223h2v1h-2zM1012 224h3v1h-3zM1015 225h2v1h-2zM1017 226h3v1h-3zM1020 227h3v1h-3zM1023 228h3v1h-3zM1026 229h3v1h-3zM1029 230h3v1h-3zM1032 231h4v1h-4zM1036 232h4v1h-4zM1040 233h4v1h-4zM1044 234h5v1h-5zM1049 233h5v1h-5zM1054 232h3v1h-3zM1057 231h4v1h-4zM1061 230h4v1h-4zM1065 229h4v1h-4zM1069 228h5v1h-5zM1074 227h4v1h-4zM1078 226h3v1h-3zM1081 225h4v1h-4zM1085 224h4v1h-4zM1089 223h3v1h-3zM1092 222h4v1h-4zM1096 221h3v1h-3zM1099 220h3v1h-3zM1102 219h2v1h-2zM1104 218h3v1h-3zM1107 217h2v1h-2zM1109 216h3v1h-3zM1112 215h6v1h-6zM1118 214h12v1h-12zM1130 213h7v1h-7zM1137 212h6v1h-6zM1143 211h4v1h-4zM1147 210h4v1h-4zM1151 209h3v1h-3zM1154 208h3v1h-3zM1157 207h3v1h-3zM1160 206h4v1h-4zM1164 205h4v1h-4zM1168 204h7v1h-7zM1175 203h8v1h-8zM1183 202h12v1h-12zM1195 201h26v1h-26zM1221 202h7v1h-7zM1228 203h4v1h-4zM1232 204h4v1h-4zM1236 205h4v1h-4zM1240 206h4v1h-4zM1244 207h4v1h-4zM1248 208h4v1h-4zM1252 209h4v1h-4zM1256 210h4v1h-4zM1260 211h4v1h-4zM1264 212h4v1h-4zM1268 213h10v1h-10zM1278 212h4v1h-4zM1282 211h3v1h-3zM1285 210h2v1h-2zM1287 209h2v1h-2zM1289 208h2v1h-2zM1291 207h2v1h-2zM1293 206h2v1h-2zM1295 205h2v1h-2zM1297 204h2v1h-2zM1299 203h1v1h-1zM1300 202h1v1h-1zM1301 201h2v1h-2zM1303 200h1v1h-1zM1304 199h1v1h-1zM1305 198h1v1h-1zM1306 197h2v1h-2zM1308 196h1v1h-1zM1309 195h1v1h-1zM1310 194h1v1h-1zM1311 193h1v1h-1zM1312 192h2v1h-2zM1314 191h1v1h-1zM1315 190h1v1h-1zM1316 189h2v1h-2zM1318 188h1v1h-1zM1319 187h2v1h-2zM1321 186h1v1h-1zM1322 185h2v1h-2zM1324 184h1v1h-1zM1325 183h2v1h-2zM1327 182h2v1h-2zM1329 181h2v1h-2zM1331 180h1v1h-1zM1332 179h2v1h-2zM1334 178h3v1h-3z" fill="#ff4500" stroke="none"/></g><g clip-path="url(#cm)" shape-rendering="crispEdges"><rect x="8" y="119" width="1663" height="1" fill="#c0c0c0"/><rect x="8" y="67" width="1663" height="2" fill="#ff0000"/><rect x="8" y="115" width="1663" height="2" fill="#00ff7f"/><rect x="8" y="173" width="1663" height="2" fill="#0000ff"/><rect x="8" y="226" width="1663" height="2" fill="#0000ff"/></g><g clip-path="url(#cm)" shape-rendering="crispEdges"><rect x="8" y="227" width="1" height="35" fill="#32cd32"/><rect x="6" y="235" width="5" height="6" fill="#32cd32"/><rect x="16" y="221" width="1" height="31" fill="#ff4500"/><rect x="14" y="232" width="5" height="8" fill="#ff4500"/><rect x="24" y="214" width="1" height="21" fill="#ff4500"/><rect x="22" y="222" width="5" height="11" fill="#ff4500"/><rect x="32" y="239" width="1" height="105" fill="#32cd32"/><rect x="30" y="239" width="5" height="74" fill="#32cd32"/><rect x="40" y="286" width="1" height="36" fill="#000000"/><rect x="38" y="312" width="5" height="1" fill="#000000"/><rect x="48" y="297" width="1" height="38" fill="#32cd32"/><rect x="46" y="305" width="5" height="24" fill="#32cd32"/><rect x="56" y="311" width="1" height="23" fill="#ff4500"/><rect x="54" y="320" width="5" height="9" fill="#ff4500"/><rect x="64" y="296" width="1" height="32" fill="#32cd32"/><rect x="62" y="300" width="5" height="14" fill="#32cd32"/><rect x="72" y="310" width="1" height="22" fill="#32cd32"/><rect x="70" y="313" width="5" height="6" fill="#32cd32"/><rect x="80" y="272" width="1" height="42" fill="#32cd32"/><rect x="78" y="300" width="5" height="9" fill="#32cd32"/><rect x="88" y="304" width="1" height="34" fill="#32cd32"/><rect x="86" y="308" width="5" height="15" fill="#32cd32"/><rect x="96" y="276" width="1" height="52" fill="#ff4500"/><rect x="94" y="289" width="5" height="33" fill="#ff4500"/><rect x="104" y="280" width="1" height="18" fill="#32cd32"/><rect x="102" y="289" width="5" height="4" fill="#32cd32"/><rect x="112" y="247" width="1" height="111" fill="#ff4500"/><rect x="110" y="250" width="5" height="65" fill="#ff4500"/><rect x="120" y="247" width="1" height="43" fill="#32cd32"/><rect x="118" y="250" width="5" height="27" fill="#32cd32"/><rect x="128" y="267" width="1" height="29" fill="#32cd32"/><rect x="126" y="281" width="5" height="6" fill="#32cd32"/><rect x="136" y="284" width="1" height="16" fill="#32cd32"/><rect x="134" y="286" width="5" height="5" fill="#32cd32"/><rect x="144" y="276" width="1" height="41" fill="#ff4500"/><rect x="142" y="284" width="5" height="23" fill="#ff4500"/><rect x="152" y="279" width="1" height="20" fill="#32cd32"/><rect x="150" y="285" width="5" height="13" fill="#32cd32"/><rect x="160" y="314" width="1" height="22" fill="#32cd32"/><rect x="158" y="318" width="5" height="11" fill="#32cd32"/><rect x="168" y="314" width="1" height="21" fill="#32cd32"/><rect x="166" y="329" width="5" height="5" fill="#32cd32"/><rect x="176" y="265" width="1" height="54" fill="#ff4500"/><rect x="174" y="283" width="5" height="31" fill="#ff4500"/><rect x="184" y="279" width="1" height="25" fill="#32cd32"/><rect x="182" y="282" width="5" height="12" fill="#32cd32"/><rect x="192" y="280" width="1" height="61" fill="#32cd32"/><rect x="190" y="289" width="5" height="10" fill="#32cd32"/><rect x="200" y="298" width="1" height="25" fill="#32cd32"/><rect x="198" y="298" width="5" height="25" fill="#32cd32"/><rect x="208" y="305" width="1" height="24" fill="#32cd32"/><rect x="206" y="311" width="5" height="10" fill="#32cd32"/><rect x="216" y="307" width="1" height="18" fill="#ff4500"/><rect x="214" y="311" width="5" height="10" fill="#ff4500"/><rect x="224" y="251" width="1" height="47" fill="#ff4500"/><rect x="222" y="268" width="5" height="30" fill="#ff4500"/><rect x="232" y="268" width="1" height="24" fill="#32cd32"/><rect x="230" y="268" width="5" height="16" fill="#32cd32"/><rect x="240" y="249" width="1" height="38" fill="#ff4500"/><rect x="238" y="264" width="5" height="15" fill="#ff4500"/><rect x="248" y="246" width="1" height="25" fill="#ff4500"/><rect x="246" y="247" width="5" height="18" fill="#ff4500"/><rect x="256" y="246" width="1" height="18" fill="#ff4500"/><rect x="254" y="257" width="5" height="5" fill="#ff4500"/><rect x="264" y="234" width="1" height="27" fill="#ff4500"/><rect x="262" y="243" width="5" height="15" fill="#ff4500"/><rect x="272" y="241" width="1" height="25" fill="#32cd32"/><rect x="270" y="247" width="5" height="8" fill="#32cd32"/><rect x="280" y="249" width="1" height="18" fill="#ff4500"/><rect x="278" y="251" width="5" height="4" fill="#ff4500"/><rect x="288" y="209" width="1" height="35" fill="#ff4500"/><rect x="286" y="221" width="5" height="23" fill="#ff4500"/><rect x="296" y="220" width="1" height="18" fill="#32cd32"/><rect x="294" y="221" width="5" height="15" fill="#32cd32"/><rect x="304" y="247" width="1" height="23" fill="#32cd32"/><rect x="302" y="247" width="5" height="10" fill="#32cd32"/><rect x="312" y="248" width="1" height="17" fill="#32cd32"/><rect x="310" y="256" width="5" height="2" fill="#32cd32"/><rect x="320" y="265" width="1" height="39" fill="#32cd32"/><rect x="318" y="276" width="5" height="21" fill="#32cd32"/><rect x="328" y="289" width="1" height="19" fill="#ff4500"/><rect x="326" y="293" width="5" height="5" fill="#ff4500"/><rect x="336" y="348" width="1" height="29" fill="#ff4500"/><rect x="334" y="362" width="5" height="8" fill="#ff4500"/><rect x="344" y="342" width="1" height="24" fill="#ff4500"/><rect x="342" y="351" width="5" height="11" fill="#ff4500"/><rect x="352" y="365" width="1" height="40" fill="#32cd32"/><rect x="350" y="377" width="5" height="16" fill="#32cd32"/><rect x="360" y="389" width="1" height="35" fill="#32cd32"/><rect x="358" y="392" width="5" height="28" fill="#32cd32"/><rect x="368" y="471" width="1" height="38" fill="#32cd32"/><rect x="366" y="475" width="5" height="11" fill="#32cd32"/><rect x="376" y="446" width="1" height="32" fill="#ff4500"/><rect x="374" y="459" width="5" height="19" fill="#ff4500"/><rect x="384" y="442" width="1" height="31" fill="#32cd32"/><rect x="382" y="444" width="5" height="20" fill="#32cd32"/><rect x="392" y="457" width="1" height="30" fill="#32cd32"/><rect x="390" y="463" width="5" height="21" fill="#32cd32"/><rect x="400" y="436" width="1" height="29" fill="#ff4500"/><rect x="398" y="446" width="5" height="6" fill="#ff4500"/><rect x="408" y="433" width="1" height="22" fill="#32cd32"/><rect x="406" y="445" width="5" height="2" fill="#32cd32"/><rect x="416" y="427" width="1" height="44" fill="#32cd32"/><rect x="414" y="429" width="5" height="36" fill="#32cd32"/><rect x="424" y="457" width="1" height="23" fill="#ff4500"/><rect x="422" y="463" width="5" height="3" fill="#ff4500"/><rect x="432" y="426" width="1" height="32" fill="#ff4500"/><rect x="430" y="436" width="5" height="10" fill="#ff4500"/><rect x="440" y="409" width="1" height="43" fill="#ff4500"/><rect x="438" y="415" width="5" height="22" fill="#ff4500"/><rect x="448" y="421" width="1" height="22" fill="#32cd32"/><rect x="446" y="430" width="5" height="10" fill="#32cd32"/><rect x="456" y="432" width="1" height="17" fill="#ff4500"/><rect x="454" y="433" width="5" height="7" fill="#ff4500"/><rect x="464" y="382" width="1" height="27" fill="#32cd32"/><rect x="462" y="390" width="5" height="9" fill="#32cd32"/><rect x="472" y="396" width="1" height="20" fill="#32cd32"/><rect x="470" y="398" width="5" height="15" fill="#32cd32"/><rect x="480" y="440" width="1" height="43" fill="#ff4500"/><rect x="478" y="445" width="5" height="31" fill="#ff4500"/><rect x="488" y="407" width="1" height="47" fill="#ff4500"/><rect x="486" y="413" width="5" height="33" fill="#ff4500"/><rect x="496" y="375" width="1" height="53" fill="#ff4500"/><rect x="494" y="386" width="5" height="24" fill="#ff4500"/><rect x="504" y="378" width="1" height="30" fill="#32cd32"/><rect x="502" y="385" width="5" height="17" fill="#32cd32"/><rect x="512" y="334" width="1" height="57" fill="#ff4500"/><rect x="510" y="334" width="5" height="37" fill="#ff4500"/><rect x="520" y="305" width="1" height="38" fill="#ff4500"/><rect x="518" y="309" width="5" height="26" fill="#ff4500"/><rect x="528" y="299" width="1" height="22" fill="#ff4500"/><rect x="526" y="311" width="5" height="9" fill="#ff4500"/><rect x="536" y="306" width="1" height="15" fill="#32cd32"/><rect x="534" y="311" width="5" height="9" fill="#32cd32"/><rect x="544" y="309" width="1" height="17" fill="#ff4500"/><rect x="542" y="317" width="5" height="4" fill="#ff4500"/><rect x="552" y="310" width="1" height="11" fill="#ff4500"/><rect x="550" y="317" width="5" height="1" fill="#ff4500"/><rect x="560" y="306" width="1" height="23" fill="#32cd32"/><rect x="558" y="308" width="5" height="17" fill="#32cd32"/><rect x="568" y="308" width="1" height="25" fill="#ff4500"/><rect x="566" y="314" width="5" height="11" fill="#ff4500"/><rect x="576" y="270" width="1" height="50" fill="#ff4500"/><rect x="574" y="285" width="5" height="27" fill="#ff4500"/><rect x="584" y="274" width="1" height="25" fill="#32cd32"/><rect x="582" y="285" width="5" height="4" fill="#32cd32"/><rect x="592" y="314" width="1" height="33" fill="#ff4500"/><rect x="590" y="325" width="5" height="11" fill="#ff4500"/><rect x="600" y="324" width="1" height="20" fill="#32cd32"/><rect x="598" y="325" width="5" height="4" fill="#32cd32"/><rect x="608" y="245" width="1" height="69" fill="#ff4500"/><rect x="606" y="266" width="5" height="46" fill="#ff4500"/><rect x="616" y="260" width="1" height="33" fill="#32cd32"/><rect x="614" y="265" width="5" height="25" fill="#32cd32"/><rect x="624" y="276" width="1" height="31" fill="#32cd32"/><rect x="622" y="281" width="5" height="17" fill="#32cd32"/><rect x="632" y="285" width="1" height="15" fill="#32cd32"/><rect x="630" y="297" width="5" height="1" fill="#32cd32"/><rect x="640" y="293" width="1" height="40" fill="#32cd32"/><rect x="638" y="294" width="5" height="22" fill="#32cd32"/><rect x="648" y="304" width="1" height="15" fill="#ff4500"/><rect x="646" y="309" width="5" height="8" fill="#ff4500"/><rect x="656" y="265" width="1" height="35" fill="#32cd32"/><rect x="654" y="286" width="5" height="9" fill="#32cd32"/><rect x="664" y="284" width="1" height="42" fill="#32cd32"/><rect x="662" y="294" width="5" height="7" fill="#32cd32"/><rect x="672" y="251" width="1" height="53" fill="#ff4500"/><rect x="670" y="256" width="5" height="44" fill="#ff4500"/><rect x="680" y="238" width="1" height="25" fill="#32cd32"/><rect x="678" y="256" width="5" height="7" fill="#32cd32"/><rect x="688" y="251" width="1" height="19" fill="#32cd32"/><rect x="686" y="255" width="5" height="5" fill="#32cd32"/><rect x="696" y="255" width="1" height="16" fill="#32cd32"/><rect x="694" y="258" width="5" height="2" fill="#32cd32"/><rect x="704" y="220" width="1" height="37" fill="#ff4500"/><rect x="702" y="244" width="5" height="10" fill="#ff4500"/><rect x="712" y="208" width="1" height="52" fill="#ff4500"/><rect x="710" y="208" width="5" height="38" fill="#ff4500"/><rect x="720" y="121" width="1" height="63" fill="#ff4500"/><rect x="718" y="148" width="5" height="36" fill="#ff4500"/><rect x="728" y="136" width="1" height="46" fill="#32cd32"/><rect x="726" y="148" width="5" height="29" fill="#32cd32"/><rect x="736" y="147" width="1" height="24" fill="#32cd32"/><rect x="734" y="158" width="5" height="1" fill="#32cd32"/><rect x="744" y="143" width="1" height="28" fill="#ff4500"/><rect x="742" y="143" width="5" height="16" fill="#ff4500"/><rect x="752" y="120" width="1" height="28" fill="#32cd32"/><rect x="750" y="123" width="5" height="17" fill="#32cd32"/><rect x="760" y="127" width="1" height="17" fill="#ff4500"/><rect x="758" y="133" width="5" height="9" fill="#ff4500"/><rect x="768" y="124" width="1" height="38" fill="#32cd32"/><rect x="766" y="125" width="5" height="29" fill="#32cd32"/><rect x="776" y="137" width="1" height="18" fill="#ff4500"/><rect x="774" y="141" width="5" height="14" fill="#ff4500"/><rect x="784" y="129" width="1" height="44" fill="#32cd32"/><rect x="782" y="133" width="5" height="14" fill="#32cd32"/><rect x="792" y="146" width="1" height="24" fill="#32cd32"/><rect x="790" y="147" width="5" height="17" fill="#32cd32"/><rect x="800" y="139" width="1" height="20" fill="#ff4500"/><rect x="798" y="145" width="5" height="3" fill="#ff4500"/><rect x="808" y="115" width="1" height="34" fill="#ff4500"/><rect x="806" y="125" width="5" height="22" fill="#ff4500"/><rect x="816" y="123" width="1" height="25" fill="#32cd32"/><rect x="814" y="125" width="5" height="11" fill="#32cd32"/><rect x="824" y="134" width="1" height="28" fill="#32cd32"/><rect x="822" y="135" width="5" height="5" fill="#32cd32"/><rect x="832" y="149" width="1" height="26" fill="#32cd32"/><rect x="830" y="151" width="5" height="20" fill="#32cd32"/><rect x="840" y="171" width="1" height="51" fill="#32cd32"/><rect x="838" y="171" width="5" height="39" fill="#32cd32"/><rect x="848" y="177" width="1" height="23" fill="#ff4500"/><rect x="846" y="186" width="5" height="9" fill="#ff4500"/><rect x="856" y="181" width="1" height="17" fill="#32cd32"/><rect x="854" y="186" width="5" height="9" fill="#32cd32"/><rect x="864" y="180" width="1" height="28" fill="#32cd32"/><rect x="862" y="180" width="5" height="12" fill="#32cd32"/><rect x="872" y="176" width="1" height="23" fill="#ff4500"/><rect x="870" y="177" width="5" height="15" fill="#ff4500"/><rect x="880" y="167" width="1" height="14" fill="#32cd32"/><rect x="878" y="170" width="5" height="2" fill="#32cd32"/><rect x="888" y="161" width="1" height="18" fill="#32cd32"/><rect x="886" y="171" width="5" height="2" fill="#32cd32"/><rect x="896" y="186" width="1" height="43" fill="#32cd32"/><rect x="894" y="186" width="5" height="40" fill="#32cd32"/><rect x="904" y="200" width="1" height="29" fill="#ff4500"/><rect x="902" y="203" width="5" height="23" fill="#ff4500"/><rect x="912" y="166" width="1" height="43" fill="#ff4500"/><rect x="910" y="172" width="5" height="25" fill="#ff4500"/><rect x="920" y="170" width="1" height="37" fill="#32cd32"/><rect x="918" y="171" width="5" height="33" fill="#32cd32"/><rect x="928" y="204" width="1" height="24" fill="#32cd32"/><rect x="926" y="212" width="5" height="6" fill="#32cd32"/><rect x="936" y="206" width="1" height="22" fill="#32cd32"/><rect x="934" y="218" width="5" height="10" fill="#32cd32"/><rect x="944" y="202" width="1" height="43" fill="#32cd32"/><rect x="942" y="212" width="5" height="32" fill="#32cd32"/><rect x="952" y="228" width="1" height="26" fill="#32cd32"/><rect x="950" y="244" width="5" height="7" fill="#32cd32"/><rect x="960" y="237" width="1" height="18" fill="#32cd32"/><rect x="958" y="243" width="5" height="4" fill="#32cd32"/><rect x="968" y="232" width="1" height="15" fill="#ff4500"/><rect x="966" y="240" width="5" height="7" fill="#ff4500"/><rect x="976" y="236" width="1" height="29" fill="#32cd32"/><rect x="974" y="245" width="5" height="17" fill="#32cd32"/><rect x="984" y="238" width="1" height="62" fill="#32cd32"/><rect x="982" y="260" width="5" height="38" fill="#32cd32"/><rect x="992" y="240" width="1" height="43" fill="#ff4500"/><rect x="990" y="245" width="5" height="38" fill="#ff4500"/><rect x="1000" y="248" width="1" height="22" fill="#32cd32"/><rect x="998" y="248" width="5" height="19" fill="#32cd32"/><rect x="1008" y="260" width="1" height="38" fill="#ff4500"/><rect x="1006" y="275" width="5" height="8" fill="#ff4500"/><rect x="1016" y="255" width="1" height="24" fill="#ff4500"/><rect x="1014" y="262" width="5" height="14" fill="#ff4500"/><rect x="1024" y="248" width="1" height="26" fill="#ff4500"/><rect x="1022" y="255" width="5" height="16" fill="#ff4500"/><rect x="1032" y="225" width="1" height="32" fill="#ff4500"/><rect x="1030" y="231" width="5" height="26" fill="#ff4500"/><rect x="1040" y="205" width="1" height="34" fill="#ff4500"/><rect x="1038" y="212" width="5" height="9" fill="#ff4500"/><rect x="1048" y="173" width="1" height="43" fill="#ff4500"/><rect x="1046" y="184" width="5" height="30" fill="#ff4500"/><rect x="1056" y="114" width="1" height="55" fill="#ff4500"/><rect x="1054" y="137" width="5" height="20" fill="#ff4500"/><rect x="1064" y="133" width="1" height="32" fill="#32cd32"/><rect x="1062" y="137" width="5" height="19" fill="#32cd32"/><rect x="1072" y="152" width="1" height="17" fill="#32cd32"/><rect x="1070" y="157" width="5" height="5" fill="#32cd32"/><rect x="1080" y="157" width="1" height="11" fill="#32cd32"/><rect x="1078" y="160" width="5" height="5" fill="#32cd32"/><rect x="1088" y="133" width="1" height="50" fill="#32cd32"/><rect x="1086" y="161" width="5" height="16" fill="#32cd32"/><rect x="1096" y="167" width="1" height="17" fill="#32cd32"/><rect x="1094" y="177" width="5" height="4" fill="#32cd32"/><rect x="1104" y="163" width="1" height="17" fill="#32cd32"/><rect x="1102" y="168" width="5" height="5" fill="#32cd32"/><rect x="1112" y="171" width="1" height="18" fill="#32cd32"/><rect x="1110" y="172" width="5" height="4" fill="#32cd32"/><rect x="1120" y="157" width="1" height="50" fill="#32cd32"/><rect x="1118" y="170" width="5" height="34" fill="#32cd32"/><rect x="1128" y="200" width="1" height="52" fill="#32cd32"/><rect x="1126" y="203" width="5" height="39" fill="#32cd32"/><rect x="1136" y="222" width="1" height="27" fill="#ff4500"/><rect x="1134" y="224" width="5" height="16" fill="#ff4500"/><rect x="1144" y="222" width="1" height="25" fill="#32cd32"/><rect x="1142" y="224" width="5" height="6" fill="#32cd32"/><rect x="1152" y="213" width="1" height="29" fill="#32cd32"/><rect x="1150" y="218" width="5" height="18" fill="#32cd32"/><rect x="1160" y="205" width="1" height="39" fill="#ff4500"/><rect x="1158" y="218" width="5" height="19" fill="#ff4500"/><rect x="1168" y="209" width="1" height="26" fill="#32cd32"/><rect x="1166" y="222" width="5" height="9" fill="#32cd32"/><rect x="1176" y="222" width="1" height="31" fill="#32cd32"/><rect x="1174" y="230" width="5" height="5" fill="#32cd32"/><rect x="1184" y="212" width="1" height="30" fill="#32cd32"/><rect x="1182" y="230" width="5" height="12" fill="#32cd32"/><rect x="1192" y="226" width="1" height="28" fill="#ff4500"/><rect x="1190" y="226" width="5" height="16" fill="#ff4500"/><rect x="1200" y="215" width="1" height="43" fill="#32cd32"/><rect x="1198" y="231" width="5" height="2" fill="#32cd32"/><rect x="1208" y="196" width="1" height="39" fill="#ff4500"/><rect x="1206" y="198" width="5" height="36" fill="#ff4500"/><rect x="1216" y="169" width="1" height="34" fill="#ff4500"/><rect x="1214" y="176" width="5" height="15" fill="#ff4500"/><rect x="1224" y="174" width="1" height="17" fill="#32cd32"/><rect x="1222" y="176" width="5" height="5" fill="#32cd32"/><rect x="1232" y="174" width="1" height="13" fill="#32cd32"/><rect x="1230" y="178" width="5" height="6" fill="#32cd32"/><rect x="1240" y="179" width="1" height="16" fill="#32cd32"/><rect x="1238" y="184" width="5" height="10" fill="#32cd32"/><rect x="1248" y="192" width="1" height="34" fill="#32cd32"/><rect x="1246" y="198" width="5" height="21" fill="#32cd32"/><rect x="1256" y="209" width="1" height="18" fill="#32cd32"/><rect x="1254" y="218" width="5" height="2" fill="#32cd32"/><rect x="1264" y="201" width="1" height="19" fill="#32cd32"/><rect x="1262" y="206" width="5" height="8" fill="#32cd32"/><rect x="1272" y="210" width="1" height="22" fill="#32cd32"/><rect x="1270" y="213" width="5" height="6" fill="#32cd32"/><rect x="1280" y="153" width="1" height="77" fill="#ff4500"/><rect x="1278" y="164" width="5" height="58" fill="#ff4500"/><rect x="1288" y="141" width="1" height="29" fill="#ff4500"/><rect x="1286" y="142" width="5" height="23" fill="#ff4500"/><rect x="1296" y="119" width="1" height="22" fill="#ff4500"/><rect x="1294" y="125" width="5" height="7" fill="#ff4500"/><rect x="1304" y="120" width="1" height="16" fill="#32cd32"/><rect x="1302" y="125" width="5" height="3" fill="#32cd32"/><rect x="1312" y="86" width="1" height="47" fill="#ff4500"/><rect x="1310" y="89" width="5" height="36" fill="#ff4500"/><rect x="1320" y="65" width="1" height="47" fill="#32cd32"/><rect x="1318" y="88" width="5" height="19" fill="#32cd32"/><rect x="1328" y="99" width="1" height="13" fill="#32cd32"/><rect x="1326" y="104" width="5" height="2" fill="#32cd32"/><rect x="1336" y="102" width="1" height="31" fill="#32cd32"/><rect x="1334" y="106" width="5" height="14" fill="#32cd32"/><rect x="1665" y="171" width="6" height="6" fill="#0000ff"/><rect x="1667" y="173" width="2" height="2" fill="#fff"/><rect x="1665" y="224" width="6" height="6" fill="#0000ff"/><rect x="1667" y="226" width="2" height="2" fill="#fff"/><rect x="1665" y="113" width="6" height="6" fill="#00ff7f"/><rect x="1667" y="115" width="2" height="2" fill="#fff"/></g><g shape-rendering="crispEdges"><rect x="7" y="171" width="6" height="6" fill="#0000ff"/><rect x="9" y="173" width="2" height="2" fill="#fff"/><rect x="7" y="224" width="6" height="6" fill="#0000ff"/><rect x="9" y="226" width="2" height="2" fill="#fff"/><rect x="7" y="113" width="6" height="6" fill="#00ff7f"/><rect x="9" y="115" width="2" height="2" fill="#fff"/></g><path d="M1347 42H1360L1353.5 48.5Z" fill="#c0c0c0"/><text transform="translate(1145.3,386.0) scale(1,1.049)" x="0" y="0" font-family="Liberation Sans, Noto Sans CJK SC, sans-serif" font-size="51px" fill="#ff2613" stroke="#ff2613" stroke-width="0.45">多空转折点3985</text><g clip-path="url(#cd)" shape-rendering="crispEdges"><rect x="8" y="529" width="1" height="25" fill="#c0c0c0"/><rect x="16" y="530" width="1" height="24" fill="#c0c0c0"/><rect x="24" y="535" width="1" height="19" fill="#c0c0c0"/><rect x="32" y="539" width="1" height="15" fill="#c0c0c0"/><rect x="40" y="542" width="1" height="12" fill="#c0c0c0"/><rect x="48" y="546" width="1" height="8" fill="#c0c0c0"/><rect x="56" y="549" width="1" height="5" fill="#c0c0c0"/><rect x="64" y="551" width="1" height="3" fill="#c0c0c0"/><rect x="72" y="553" width="1" height="1" fill="#c0c0c0"/><rect x="168" y="553" width="1" height="4" fill="#c0c0c0"/><rect x="176" y="553" width="1" height="3" fill="#c0c0c0"/><rect x="184" y="553" width="1" height="2" fill="#c0c0c0"/><rect x="192" y="553" width="1" height="2" fill="#c0c0c0"/><rect x="200" y="553" width="1" height="3" fill="#c0c0c0"/><rect x="208" y="553" width="1" height="3" fill="#c0c0c0"/><rect x="216" y="553" width="1" height="3" fill="#c0c0c0"/><rect x="224" y="553" width="1" height="3" fill="#c0c0c0"/><rect x="232" y="553" width="1" height="1" fill="#c0c0c0"/><rect x="240" y="553" width="1" height="1" fill="#c0c0c0"/><rect x="248" y="552" width="1" height="2" fill="#c0c0c0"/><rect x="256" y="551" width="1" height="3" fill="#c0c0c0"/><rect x="264" y="550" width="1" height="4" fill="#c0c0c0"/><rect x="272" y="549" width="1" height="5" fill="#c0c0c0"/><rect x="280" y="549" width="1" height="5" fill="#c0c0c0"/><rect x="288" y="547" width="1" height="7" fill="#c0c0c0"/><rect x="296" y="546" width="1" height="8" fill="#c0c0c0"/><rect x="304" y="547" width="1" height="7" fill="#c0c0c0"/><rect x="312" y="547" width="1" height="7" fill="#c0c0c0"/><rect x="320" y="549" width="1" height="5" fill="#c0c0c0"/><rect x="328" y="551" width="1" height="3" fill="#c0c0c0"/><rect x="336" y="553" width="1" height="1" fill="#c0c0c0"/><rect x="344" y="553" width="1" height="5" fill="#c0c0c0"/><rect x="352" y="553" width="1" height="9" fill="#c0c0c0"/><rect x="360" y="553" width="1" height="13" fill="#c0c0c0"/><rect x="368" y="553" width="1" height="19" fill="#c0c0c0"/><rect x="376" y="553" width="1" height="22" fill="#c0c0c0"/><rect x="384" y="553" width="1" height="24" fill="#c0c0c0"/><rect x="392" y="553" width="1" height="27" fill="#c0c0c0"/><rect x="400" y="553" width="1" height="27" fill="#c0c0c0"/><rect x="408" y="553" width="1" height="27" fill="#c0c0c0"/><rect x="416" y="553" width="1" height="27" fill="#c0c0c0"/><rect x="424" y="553" width="1" height="27" fill="#c0c0c0"/><rect x="432" y="553" width="1" height="25" fill="#c0c0c0"/><rect x="440" y="553" width="1" height="24" fill="#c0c0c0"/><rect x="448" y="553" width="1" height="22" fill="#c0c0c0"/><rect x="456" y="553" width="1" height="21" fill="#c0c0c0"/><rect x="464" y="553" width="1" height="18" fill="#c0c0c0"/><rect x="472" y="553" width="1" height="16" fill="#c0c0c0"/><rect x="480" y="553" width="1" height="17" fill="#c0c0c0"/><rect x="488" y="553" width="1" height="15" fill="#c0c0c0"/><rect x="496" y="553" width="1" height="13" fill="#c0c0c0"/><rect x="504" y="553" width="1" height="11" fill="#c0c0c0"/><rect x="512" y="553" width="1" height="6" fill="#c0c0c0"/><rect x="520" y="553" width="1" height="3" fill="#c0c0c0"/><rect x="528" y="553" width="1" height="2" fill="#c0c0c0"/><rect x="536" y="550" width="1" height="4" fill="#c0c0c0"/><rect x="544" y="548" width="1" height="6" fill="#c0c0c0"/><rect x="552" y="547" width="1" height="7" fill="#c0c0c0"/><rect x="560" y="546" width="1" height="8" fill="#c0c0c0"/><rect x="568" y="545" width="1" height="9" fill="#c0c0c0"/><rect x="576" y="544" width="1" height="10" fill="#c0c0c0"/><rect x="584" y="542" width="1" height="12" fill="#c0c0c0"/><rect x="592" y="543" width="1" height="11" fill="#c0c0c0"/><rect x="600" y="544" width="1" height="10" fill="#c0c0c0"/><rect x="608" y="542" width="1" height="12" fill="#c0c0c0"/><rect x="616" y="542" width="1" height="12" fill="#c0c0c0"/><rect x="624" y="542" width="1" height="12" fill="#c0c0c0"/><rect x="632" y="542" width="1" height="12" fill="#c0c0c0"/><rect x="640" y="542" width="1" height="12" fill="#c0c0c0"/><rect x="648" y="544" width="1" height="10" fill="#c0c0c0"/><rect x="656" y="544" width="1" height="10" fill="#c0c0c0"/><rect x="664" y="545" width="1" height="9" fill="#c0c0c0"/><rect x="672" y="544" width="1" height="10" fill="#c0c0c0"/><rect x="680" y="542" width="1" height="12" fill="#c0c0c0"/><rect x="688" y="542" width="1" height="12" fill="#c0c0c0"/><rect x="696" y="542" width="1" height="12" fill="#c0c0c0"/><rect x="704" y="541" width="1" height="13" fill="#c0c0c0"/><rect x="712" y="540" width="1" height="14" fill="#c0c0c0"/><rect x="720" y="536" width="1" height="18" fill="#c0c0c0"/><rect x="728" y="534" width="1" height="20" fill="#c0c0c0"/><rect x="736" y="532" width="1" height="22" fill="#c0c0c0"/><rect x="744" y="531" width="1" height="23" fill="#c0c0c0"/><rect x="752" y="529" width="1" height="25" fill="#c0c0c0"/><rect x="760" y="528" width="1" height="26" fill="#c0c0c0"/><rect x="768" y="528" width="1" height="26" fill="#c0c0c0"/><rect x="776" y="528" width="1" height="26" fill="#c0c0c0"/><rect x="784" y="529" width="1" height="25" fill="#c0c0c0"/><rect x="792" y="530" width="1" height="24" fill="#c0c0c0"/><rect x="800" y="531" width="1" height="23" fill="#c0c0c0"/><rect x="808" y="531" width="1" height="23" fill="#c0c0c0"/><rect x="816" y="532" width="1" height="22" fill="#c0c0c0"/><rect x="824" y="533" width="1" height="21" fill="#c0c0c0"/><rect x="832" y="535" width="1" height="19" fill="#c0c0c0"/><rect x="840" y="538" width="1" height="16" fill="#c0c0c0"/><rect x="848" y="540" width="1" height="14" fill="#c0c0c0"/><rect x="856" y="542" width="1" height="12" fill="#c0c0c0"/><rect x="864" y="544" width="1" height="10" fill="#c0c0c0"/><rect x="872" y="545" width="1" height="9" fill="#c0c0c0"/><rect x="880" y="546" width="1" height="8" fill="#c0c0c0"/><rect x="888" y="546" width="1" height="8" fill="#c0c0c0"/><rect x="896" y="549" width="1" height="5" fill="#c0c0c0"/><rect x="904" y="550" width="1" height="4" fill="#c0c0c0"/><rect x="912" y="550" width="1" height="4" fill="#c0c0c0"/><rect x="920" y="551" width="1" height="3" fill="#c0c0c0"/><rect x="928" y="552" width="1" height="2" fill="#c0c0c0"/><rect x="936" y="553" width="1" height="1" fill="#c0c0c0"/><rect x="944" y="553" width="1" height="1" fill="#c0c0c0"/><rect x="952" y="553" width="1" height="4" fill="#c0c0c0"/><rect x="960" y="553" width="1" height="6" fill="#c0c0c0"/><rect x="968" y="553" width="1" height="6" fill="#c0c0c0"/><rect x="976" y="553" width="1" height="7" fill="#c0c0c0"/><rect x="984" y="553" width="1" height="10" fill="#c0c0c0"/><rect x="992" y="553" width="1" height="10" fill="#c0c0c0"/><rect x="1000" y="553" width="1" height="10" fill="#c0c0c0"/><rect x="1008" y="553" width="1" height="11" fill="#c0c0c0"/><rect x="1016" y="553" width="1" height="11" fill="#c0c0c0"/><rect x="1024" y="553" width="1" height="11" fill="#c0c0c0"/><rect x="1032" y="553" width="1" height="10" fill="#c0c0c0"/><rect x="1040" y="553" width="1" height="8" fill="#c0c0c0"/><rect x="1048" y="553" width="1" height="5" fill="#c0c0c0"/><rect x="1056" y="553" width="1" height="1" fill="#c0c0c0"/><rect x="1064" y="551" width="1" height="3" fill="#c0c0c0"/><rect x="1072" y="549" width="1" height="5" fill="#c0c0c0"/><rect x="1080" y="548" width="1" height="6" fill="#c0c0c0"/><rect x="1088" y="547" width="1" height="7" fill="#c0c0c0"/><rect x="1096" y="547" width="1" height="7" fill="#c0c0c0"/><rect x="1104" y="547" width="1" height="7" fill="#c0c0c0"/><rect x="1112" y="547" width="1" height="7" fill="#c0c0c0"/><rect x="1120" y="548" width="1" height="6" fill="#c0c0c0"/><rect x="1128" y="550" width="1" height="4" fill="#c0c0c0"/><rect x="1136" y="552" width="1" height="2" fill="#c0c0c0"/><rect x="1144" y="553" width="1" height="1" fill="#c0c0c0"/><rect x="1152" y="553" width="1" height="1" fill="#c0c0c0"/><rect x="1160" y="553" width="1" height="1" fill="#c0c0c0"/><rect x="1168" y="553" width="1" height="3" fill="#c0c0c0"/><rect x="1176" y="553" width="1" height="4" fill="#c0c0c0"/><rect x="1184" y="553" width="1" height="4" fill="#c0c0c0"/><rect x="1192" y="553" width="1" height="5" fill="#c0c0c0"/><rect x="1200" y="553" width="1" height="5" fill="#c0c0c0"/><rect x="1208" y="553" width="1" height="3" fill="#c0c0c0"/><rect x="1216" y="553" width="1" height="1" fill="#c0c0c0"/><rect x="1224" y="553" width="1" height="1" fill="#c0c0c0"/><rect x="1232" y="552" width="1" height="2" fill="#c0c0c0"/><rect x="1240" y="552" width="1" height="2" fill="#c0c0c0"/><rect x="1248" y="553" width="1" height="1" fill="#c0c0c0"/><rect x="1256" y="553" width="1" height="1" fill="#c0c0c0"/><rect x="1264" y="553" width="1" height="1" fill="#c0c0c0"/><rect x="1272" y="553" width="1" height="1" fill="#c0c0c0"/><rect x="1280" y="553" width="1" height="1" fill="#c0c0c0"/><rect x="1288" y="552" width="1" height="2" fill="#c0c0c0"/><rect x="1296" y="548" width="1" height="6" fill="#c0c0c0"/><rect x="1304" y="546" width="1" height="8" fill="#c0c0c0"/><rect x="1312" y="544" width="1" height="10" fill="#c0c0c0"/><rect x="1320" y="542" width="1" height="12" fill="#c0c0c0"/><rect x="1328" y="540" width="1" height="14" fill="#c0c0c0"/><rect x="1336" y="540" width="1" height="14" fill="#c0c0c0"/><rect x="80" y="553" width="1" height="1" fill="#c0c0c0"/><rect x="88" y="553" width="1" height="1" fill="#c0c0c0"/><rect x="96" y="553" width="1" height="1" fill="#c0c0c0"/><rect x="104" y="553" width="1" height="1" fill="#c0c0c0"/><rect x="112" y="553" width="1" height="1" fill="#c0c0c0"/><rect x="120" y="553" width="1" height="1" fill="#c0c0c0"/><rect x="128" y="553" width="1" height="1" fill="#c0c0c0"/><rect x="136" y="553" width="1" height="1" fill="#c0c0c0"/><rect x="144" y="553" width="1" height="1" fill="#c0c0c0"/><rect x="152" y="553" width="1" height="1" fill="#c0c0c0"/><rect x="160" y="553" width="1" height="1" fill="#c0c0c0"/></g><g clip-path="url(#cd)" shape-rendering="crispEdges"><path d="M8 529h3v1h-3zM14 529h3v1h-3zM20 529h3v1h-3zM26 529h3v1h-3zM32 530h3v1h-3zM38 531h2v1h-2zM40 532h1v1h-1zM44 533h3v1h-3zM50 534h2v1h-2zM52 535h1v1h-1zM56 536h2v1h-2zM58 537h1v1h-1zM62 538h3v1h-3zM68 539h1v1h-1zM69 540h2v1h-2zM74 541h1v1h-1zM75 542h2v1h-2zM80 543h1v1h-1zM81 544h2v1h-2zM86 545h1v1h-1zM87 546h2v1h-2zM92 547h2v1h-2zM94 548h1v1h-1zM98 549h3v1h-3zM104 550h2v1h-2zM106 551h1v1h-1zM110 551h3v1h-3zM116 552h3v1h-3zM122 552h2v1h-2zM124 553h1v1h-1zM128 553h3v1h-3zM134 553h3v1h-3zM140 553h3v1h-3zM146 553h3v1h-3zM152 553h3v1h-3zM158 553h3v1h-3zM164 553h3v1h-3zM170 553h3v1h-3zM176 554h3v1h-3zM182 554h3v1h-3zM188 554h3v1h-3zM194 554h3v1h-3zM200 554h1v1h-1zM201 555h2v1h-2zM206 555h3v1h-3zM212 555h3v1h-3zM218 555h3v1h-3zM224 555h3v1h-3zM230 555h3v1h-3zM236 555h3v1h-3zM242 555h3v1h-3zM248 554h3v1h-3zM254 554h3v1h-3zM260 554h1v1h-1zM261 553h2v1h-2zM266 553h3v1h-3zM272 552h3v1h-3zM278 552h1v1h-1zM279 551h2v1h-2zM284 550h3v1h-3zM290 550h3v1h-3zM296 549h3v1h-3zM302 549h3v1h-3zM308 549h2v1h-2zM310 548h1v1h-1zM314 548h3v1h-3zM320 548h3v1h-3zM326 548h3v1h-3zM332 548h3v1h-3zM338 548h3v1h-3zM344 549h3v1h-3zM350 550h3v1h-3zM356 551h3v1h-3zM362 553h3v1h-3zM368 555h2v1h-2zM370 556h1v1h-1zM374 557h1v1h-1zM375 558h2v1h-2zM380 560h2v1h-2zM382 561h1v1h-1zM386 562h1v1h-1zM387 563h2v1h-2zM392 565h2v1h-2zM394 566h1v1h-1zM398 567h1v1h-1zM399 568h2v1h-2zM404 570h3v1h-3zM410 572h3v1h-3zM416 573h3v1h-3zM422 575h3v1h-3zM428 576h3v1h-3zM434 577h2v1h-2zM436 578h1v1h-1zM440 578h3v1h-3zM446 578h3v1h-3zM452 578h2v1h-2zM454 577h1v1h-1zM458 577h3v1h-3zM464 576h3v1h-3zM470 576h1v1h-1zM471 575h2v1h-2zM476 575h1v1h-1zM477 574h2v1h-2zM482 574h3v1h-3zM488 573h3v1h-3zM494 572h2v1h-2zM496 571h1v1h-1zM500 571h1v1h-1zM501 570h2v1h-2zM506 570h1v1h-1zM507 569h2v1h-2zM512 568h3v1h-3zM518 567h1v1h-1zM519 566h2v1h-2zM524 565h2v1h-2zM526 564h1v1h-1zM530 563h3v1h-3zM536 561h3v1h-3zM542 560h2v1h-2zM544 559h1v1h-1zM548 558h3v1h-3zM554 556h3v1h-3zM560 555h1v1h-1zM561 554h2v1h-2zM566 552h2v1h-2zM568 551h1v1h-1zM572 550h2v1h-2zM574 549h1v1h-1zM578 548h3v1h-3zM584 547h1v1h-1zM585 546h2v1h-2zM590 545h3v1h-3zM596 545h3v1h-3zM602 544h3v1h-3zM608 544h3v1h-3zM614 544h2v1h-2zM616 543h1v1h-1zM620 543h3v1h-3zM626 543h3v1h-3zM632 543h3v1h-3zM638 543h3v1h-3zM644 543h3v1h-3zM650 543h3v1h-3zM656 543h3v1h-3zM662 543h3v1h-3zM668 543h3v1h-3zM674 543h3v1h-3zM680 543h3v1h-3zM686 543h3v1h-3zM692 543h3v1h-3zM698 543h3v1h-3zM704 543h3v1h-3zM710 543h3v1h-3zM716 542h2v1h-2zM718 541h1v1h-1zM722 541h3v1h-3zM728 540h3v1h-3zM734 539h1v1h-1zM735 538h2v1h-2zM740 538h2v1h-2zM742 537h1v1h-1zM746 537h1v1h-1zM747 536h2v1h-2zM752 536h2v1h-2zM754 535h1v1h-1zM758 535h1v1h-1zM759 534h2v1h-2zM764 534h1v1h-1zM765 533h2v1h-2zM770 532h3v1h-3zM776 531h3v1h-3zM782 531h3v1h-3zM788 530h2v1h-2zM790 529h1v1h-1zM794 529h3v1h-3zM800 529h3v1h-3zM806 529h3v1h-3zM812 529h3v1h-3zM818 529h3v1h-3zM824 529h3v1h-3zM830 530h3v1h-3zM836 531h3v1h-3zM842 531h2v1h-2zM844 532h1v1h-1zM848 532h3v1h-3zM854 534h3v1h-3zM860 535h3v1h-3zM866 536h3v1h-3zM872 537h3v1h-3zM878 539h3v1h-3zM884 540h3v1h-3zM890 541h3v1h-3zM896 542h3v1h-3zM902 544h3v1h-3zM908 545h3v1h-3zM914 546h3v1h-3zM920 546h3v1h-3zM926 547h2v1h-2zM928 548h1v1h-1zM932 548h3v1h-3zM938 548h3v1h-3zM944 549h2v1h-2zM946 550h1v1h-1zM950 551h2v1h-2zM952 552h1v1h-1zM956 552h3v1h-3zM962 552h2v1h-2zM964 553h1v1h-1zM968 553h1v1h-1zM969 554h2v1h-2zM974 554h2v1h-2zM976 555h1v1h-1zM980 555h2v1h-2zM982 556h1v1h-1zM986 556h2v1h-2zM988 557h1v1h-1zM992 557h1v1h-1zM993 558h2v1h-2zM998 558h2v1h-2zM1000 559h1v1h-1zM1004 559h3v1h-3zM1010 559h1v1h-1zM1011 560h2v1h-2zM1016 560h1v1h-1zM1017 561h2v1h-2zM1022 561h3v1h-3zM1028 562h3v1h-3zM1034 563h3v1h-3zM1040 563h1v1h-1zM1041 562h2v1h-2zM1046 562h1v1h-1zM1047 561h2v1h-2zM1052 560h3v1h-3zM1058 560h3v1h-3zM1064 559h3v1h-3zM1070 558h3v1h-3zM1076 557h3v1h-3zM1082 555h3v1h-3zM1088 554h3v1h-3zM1094 552h3v1h-3zM1100 551h3v1h-3zM1106 550h3v1h-3zM1112 549h3v1h-3zM1118 548h3v1h-3zM1124 547h3v1h-3zM1130 547h3v1h-3zM1136 547h3v1h-3zM1142 548h2v1h-2zM1144 549h1v1h-1zM1148 549h3v1h-3zM1154 549h1v1h-1zM1155 550h2v1h-2zM1160 550h3v1h-3zM1166 551h3v1h-3zM1172 551h2v1h-2zM1174 552h1v1h-1zM1178 552h3v1h-3zM1184 553h1v1h-1zM1185 554h2v1h-2zM1190 554h2v1h-2zM1192 555h1v1h-1zM1196 555h3v1h-3zM1202 555h3v1h-3zM1208 555h3v1h-3zM1214 555h3v1h-3zM1220 555h3v1h-3zM1226 555h3v1h-3zM1232 555h3v1h-3zM1238 555h3v1h-3zM1244 554h3v1h-3zM1250 554h3v1h-3zM1256 554h3v1h-3zM1262 554h3v1h-3zM1268 553h3v1h-3zM1274 553h3v1h-3zM1280 552h3v1h-3zM1286 552h3v1h-3zM1292 552h3v1h-3zM1298 552h3v1h-3zM1304 552h1v1h-1zM1305 551h2v1h-2zM1310 550h3v1h-3zM1316 549h3v1h-3zM1322 548h3v1h-3zM1328 547h2v1h-2zM1330 546h1v1h-1zM1334 546h1v1h-1zM1335 545h2v1h-2z" fill="#ff0000"/></g><g shape-rendering="crispEdges"><line x1="9" y1="622.5" x2="1672" y2="622.5" stroke="#c0c0c0" stroke-dasharray="3 3"/><line x1="9" y1="672.5" x2="1672" y2="672.5" stroke="#c0c0c0" stroke-dasharray="3 3"/></g><g clip-path="url(#cr)" shape-rendering="crispEdges"><path d="M8 637h7v1h-7zM15 636h4v1h-4zM19 635h4v1h-4zM23 634h1v1h-1zM24 634h1v3h-1zM25 637h1v2h-1zM26 639h1v3h-1zM27 642h1v2h-1zM28 644h1v3h-1zM29 647h1v2h-1zM30 649h1v3h-1zM31 652h1v2h-1zM32 654h7v1h-7zM39 653h2v1h-2zM41 654h2v1h-2zM43 655h3v1h-3zM46 656h6v1h-6zM52 655h4v1h-4zM56 654h7v1h-7zM63 653h2v1h-2zM65 654h9v1h-9zM74 653h3v1h-3zM77 652h2v1h-2zM79 651h2v1h-2zM81 652h2v1h-2zM83 653h3v1h-3zM86 654h2v1h-2zM88 653h1v1h-1zM89 652h1v1h-1zM90 651h1v1h-1zM91 650h1v1h-1zM92 649h1v1h-1zM93 648h1v1h-1zM94 647h1v1h-1zM95 646h2v1h-2zM97 647h7v1h-7zM104 646h1v2h-1zM105 645h1v1h-1zM106 644h1v1h-1zM107 643h1v1h-1zM108 641h1v2h-1zM109 640h1v1h-1zM110 639h1v1h-1zM111 638h3v1h-3zM114 639h1v1h-1zM115 640h1v1h-1zM116 641h1v1h-1zM117 642h2v1h-2zM119 643h1v1h-1zM120 644h3v1h-3zM123 645h3v1h-3zM126 646h5v1h-5zM131 647h12v1h-12zM143 646h2v1h-2zM145 647h3v1h-3zM148 648h3v1h-3zM151 649h2v1h-2zM153 650h1v1h-1zM154 651h1v1h-1zM155 652h1v1h-1zM156 653h1v1h-1zM157 654h1v1h-1zM158 655h2v1h-2zM160 656h1v1h-1zM161 657h7v1h-7zM168 656h1v2h-1zM169 654h1v2h-1zM170 652h1v2h-1zM171 651h1v1h-1zM172 649h1v2h-1zM173 647h1v2h-1zM174 646h1v1h-1zM175 644h1v2h-1zM176 644h2v1h-2zM178 645h2v1h-2zM180 646h2v1h-2zM182 647h3v1h-3zM185 648h7v1h-7zM192 649h2v1h-2zM194 650h1v1h-1zM195 651h1v1h-1zM196 652h2v1h-2zM198 653h1v1h-1zM199 654h8v1h-8zM207 653h4v1h-4zM211 652h4v1h-4zM215 651h1v1h-1zM216 650h1v1h-1zM217 649h1v1h-1zM218 647h1v2h-1zM219 646h1v1h-1zM220 645h1v1h-1zM221 643h1v2h-1zM222 642h1v1h-1zM223 641h4v1h-4zM227 642h2v1h-2zM229 643h2v1h-2zM231 644h2v1h-2zM233 643h1v1h-1zM234 642h3v1h-3zM237 641h1v1h-1zM238 640h3v1h-3zM241 639h2v1h-2zM243 638h2v1h-2zM245 637h6v1h-6zM251 638h3v1h-3zM254 639h4v1h-4zM258 638h3v1h-3zM261 637h6v1h-6zM267 638h3v1h-3zM270 639h9v1h-9zM279 638h2v1h-2zM281 637h1v1h-1zM282 636h1v1h-1zM283 635h2v1h-2zM285 634h1v1h-1zM286 633h1v1h-1zM287 632h2v1h-2zM289 633h2v1h-2zM291 634h2v1h-2zM293 635h2v1h-2zM295 636h2v1h-2zM297 637h1v1h-1zM298 638h1v1h-1zM299 639h1v1h-1zM300 640h1v1h-1zM301 641h1v1h-1zM302 642h2v1h-2zM304 643h8v1h-8zM312 643h1v2h-1zM313 645h1v1h-1zM314 646h1v1h-1zM315 647h1v1h-1zM316 648h1v2h-1zM317 650h1v1h-1zM318 651h1v1h-1zM319 652h1v1h-1zM320 653h7v1h-7zM327 652h1v1h-1zM328 652h1v2h-1zM329 654h1v2h-1zM330 656h1v2h-1zM331 658h1v1h-1zM332 659h1v2h-1zM333 661h1v2h-1zM334 663h1v2h-1zM335 665h1v1h-1zM336 666h2v1h-2zM338 665h3v1h-3zM341 664h5v1h-5zM346 665h1v1h-1zM347 666h2v1h-2zM349 667h1v1h-1zM350 668h2v1h-2zM352 669h1v1h-1zM353 670h2v1h-2zM355 671h2v1h-2zM357 672h2v1h-2zM359 673h2v1h-2zM361 674h1v1h-1zM362 675h1v1h-1zM363 676h2v1h-2zM365 677h1v1h-1zM366 678h1v1h-1zM367 679h2v1h-2zM369 678h1v1h-1zM370 677h1v1h-1zM371 676h1v1h-1zM372 675h1v1h-1zM373 674h1v1h-1zM374 673h1v1h-1zM375 672h2v1h-2zM377 673h7v1h-7zM384 674h4v1h-4zM388 675h4v1h-4zM392 674h1v2h-1zM393 673h1v1h-1zM394 672h1v1h-1zM395 670h1v2h-1zM396 669h1v1h-1zM397 668h1v1h-1zM398 667h1v1h-1zM399 665h1v2h-1zM400 665h9v1h-9zM409 666h2v1h-2zM411 667h3v1h-3zM414 668h9v1h-9zM423 667h1v1h-1zM424 666h2v1h-2zM426 665h1v1h-1zM427 664h1v1h-1zM428 663h1v1h-1zM429 662h1v1h-1zM430 661h1v1h-1zM431 660h1v1h-1zM432 659h2v1h-2zM434 658h2v1h-2zM436 657h2v1h-2zM438 656h1v1h-1zM439 655h2v1h-2zM441 656h2v1h-2zM443 657h2v1h-2zM445 658h2v1h-2zM447 659h4v1h-4zM451 658h4v1h-4zM455 657h1v1h-1zM456 656h1v1h-1zM457 655h1v1h-1zM458 654h1v1h-1zM459 653h1v1h-1zM460 652h1v1h-1zM461 651h1v1h-1zM462 650h1v1h-1zM463 649h2v1h-2zM465 650h2v1h-2zM467 651h3v1h-3zM470 652h2v1h-2zM472 653h2v1h-2zM474 654h1v1h-1zM475 655h1v1h-1zM476 656h2v1h-2zM478 657h1v1h-1zM479 658h1v1h-1zM480 657h1v1h-1zM481 656h1v1h-1zM482 655h1v1h-1zM483 654h1v1h-1zM484 653h1v1h-1zM485 652h1v1h-1zM486 651h1v1h-1zM487 650h1v1h-1zM488 649h2v1h-2zM490 648h2v1h-2zM492 647h2v1h-2zM494 646h1v1h-1zM495 645h2v1h-2zM497 646h2v1h-2zM499 647h3v1h-3zM502 648h2v1h-2zM504 647h1v1h-1zM505 645h1v2h-1zM506 644h1v1h-1zM507 642h1v2h-1zM508 641h1v1h-1zM509 639h1v2h-1zM510 638h1v1h-1zM511 636h1v2h-1zM512 636h2v1h-2zM514 635h3v1h-3zM517 634h2v1h-2zM519 633h11v1h-11zM530 634h4v1h-4zM534 635h19v1h-19zM553 636h4v1h-4zM557 637h5v1h-5zM562 636h4v1h-4zM566 635h2v1h-2zM568 634h2v1h-2zM570 633h2v1h-2zM572 632h2v1h-2zM574 631h1v1h-1zM575 630h9v1h-9zM584 630h1v2h-1zM585 632h1v1h-1zM586 633h1v2h-1zM587 635h1v1h-1zM588 636h1v1h-1zM589 637h1v2h-1zM590 639h1v1h-1zM591 640h1v1h-1zM592 641h1v1h-1zM593 642h7v1h-7zM600 641h1v2h-1zM601 640h1v1h-1zM602 638h1v2h-1zM603 636h1v2h-1zM604 635h1v1h-1zM605 633h1v2h-1zM606 632h1v1h-1zM607 630h1v2h-1zM608 630h1v1h-1zM609 631h1v1h-1zM610 632h1v1h-1zM611 633h2v1h-2zM613 634h1v1h-1zM614 635h1v1h-1zM615 636h2v1h-2zM617 637h4v1h-4zM621 638h12v1h-12zM633 639h1v1h-1zM634 640h2v1h-2zM636 641h1v1h-1zM637 642h2v1h-2zM639 643h8v1h-8zM647 642h2v1h-2zM649 641h2v1h-2zM651 640h2v1h-2zM653 639h2v1h-2zM655 638h2v1h-2zM657 639h4v1h-4zM661 640h3v1h-3zM664 639h1v1h-1zM665 638h1v1h-1zM666 637h1v1h-1zM667 636h1v1h-1zM668 635h1v1h-1zM669 634h1v1h-1zM670 633h1v1h-1zM671 631h1v2h-1zM672 631h1v1h-1zM673 632h4v1h-4zM677 633h10v1h-10zM687 632h11v1h-11zM698 631h3v1h-3zM701 630h2v1h-2zM703 629h2v1h-2zM705 628h1v1h-1zM706 627h1v1h-1zM707 626h2v1h-2zM709 625h1v1h-1zM710 624h1v1h-1zM711 623h1v1h-1zM712 622h1v1h-1zM713 621h1v1h-1zM714 620h1v1h-1zM715 619h1v1h-1zM716 618h1v1h-1zM717 617h1v1h-1zM718 616h1v1h-1zM719 615h1v1h-1zM720 615h1v2h-1zM721 617h1v1h-1zM722 618h1v1h-1zM723 619h1v1h-1zM724 620h1v1h-1zM725 621h1v1h-1zM726 622h1v1h-1zM727 623h1v1h-1zM728 624h2v1h-2zM730 623h3v1h-3zM733 622h2v1h-2zM735 621h4v1h-4zM739 620h4v1h-4zM743 619h16v1h-16zM759 618h2v1h-2zM761 619h1v1h-1zM762 620h1v1h-1zM763 621h1v1h-1zM764 622h1v1h-1zM765 623h1v1h-1zM766 624h1v1h-1zM767 625h1v1h-1zM768 626h2v1h-2zM770 625h3v1h-3zM773 624h2v1h-2zM775 623h2v1h-2zM777 624h2v1h-2zM779 625h3v1h-3zM782 626h3v1h-3zM785 627h1v1h-1zM786 628h2v1h-2zM788 629h1v1h-1zM789 630h1v1h-1zM790 631h2v1h-2zM792 632h1v1h-1zM793 631h2v1h-2zM795 630h2v1h-2zM797 629h2v1h-2zM799 628h3v1h-3zM802 627h3v1h-3zM805 626h2v1h-2zM807 625h2v1h-2zM809 626h2v1h-2zM811 627h3v1h-3zM814 628h3v1h-3zM817 629h4v1h-4zM821 630h3v1h-3zM824 630h1v2h-1zM825 632h1v1h-1zM826 633h1v1h-1zM827 634h1v1h-1zM828 635h1v1h-1zM829 636h1v1h-1zM830 637h1v1h-1zM831 638h1v1h-1zM832 639h1v2h-1zM833 641h1v1h-1zM834 642h1v1h-1zM835 643h1v2h-1zM836 645h1v1h-1zM837 646h1v1h-1zM838 647h1v2h-1zM839 649h3v1h-3zM842 648h1v1h-1zM843 647h1v1h-1zM844 646h2v1h-2zM846 645h1v1h-1zM847 644h2v1h-2zM849 645h4v1h-4zM853 646h12v1h-12zM865 645h2v1h-2zM867 644h3v1h-3zM870 643h2v1h-2zM872 642h7v1h-7zM879 641h9v1h-9zM888 641h1v2h-1zM889 643h1v2h-1zM890 645h1v1h-1zM891 646h1v2h-1zM892 648h1v2h-1zM893 650h1v2h-1zM894 652h1v1h-1zM895 653h1v2h-1zM896 654h2v1h-2zM898 653h1v1h-1zM899 652h1v1h-1zM900 651h1v1h-1zM901 650h2v1h-2zM903 649h1v1h-1zM904 648h1v1h-1zM905 647h2v1h-2zM907 646h1v1h-1zM908 645h1v1h-1zM909 644h1v1h-1zM910 643h4v1h-4zM914 644h1v1h-1zM915 645h1v1h-1zM916 646h1v1h-1zM917 647h2v1h-2zM919 648h1v1h-1zM920 649h2v1h-2zM922 650h2v1h-2zM924 651h2v1h-2zM926 652h3v1h-3zM929 653h5v1h-5zM934 654h4v1h-4zM938 655h1v1h-1zM939 656h3v1h-3zM942 657h1v1h-1zM943 658h4v1h-4zM947 659h12v1h-12zM959 658h4v1h-4zM963 657h4v1h-4zM967 656h2v1h-2zM969 657h1v1h-1zM970 658h2v1h-2zM972 659h1v1h-1zM973 660h2v1h-2zM975 661h2v1h-2zM977 662h1v1h-1zM978 663h1v1h-1zM979 664h1v1h-1zM980 665h1v1h-1zM981 666h2v1h-2zM983 667h1v1h-1zM984 666h1v2h-1zM985 664h1v2h-1zM986 662h1v2h-1zM987 660h1v2h-1zM988 658h1v2h-1zM989 656h1v2h-1zM990 655h1v1h-1zM991 653h1v2h-1zM992 653h2v1h-2zM994 654h2v1h-2zM996 655h1v1h-1zM997 656h2v1h-2zM999 657h2v1h-2zM1001 658h9v1h-9zM1010 657h3v1h-3zM1013 656h2v1h-2zM1015 655h4v1h-4zM1019 654h4v1h-4zM1023 653h2v1h-2zM1025 652h1v1h-1zM1026 651h2v1h-2zM1028 650h1v1h-1zM1029 649h2v1h-2zM1031 648h1v1h-1zM1032 647h2v1h-2zM1034 646h2v1h-2zM1036 645h1v1h-1zM1037 644h2v1h-2zM1039 643h1v1h-1zM1040 642h2v1h-2zM1042 641h1v1h-1zM1043 640h1v1h-1zM1044 639h1v1h-1zM1045 638h2v1h-2zM1047 637h1v1h-1zM1048 636h1v1h-1zM1049 635h1v1h-1zM1050 634h1v1h-1zM1051 633h1v1h-1zM1052 632h1v1h-1zM1053 631h1v1h-1zM1054 629h1v2h-1zM1055 628h2v1h-2zM1057 629h1v1h-1zM1058 630h2v1h-2zM1060 631h2v1h-2zM1062 632h2v1h-2zM1064 633h2v1h-2zM1066 634h4v1h-4zM1070 635h3v1h-3zM1073 636h8v1h-8zM1081 637h2v1h-2zM1083 638h3v1h-3zM1086 639h3v1h-3zM1089 640h10v1h-10zM1099 639h4v1h-4zM1103 638h2v1h-2zM1105 639h4v1h-4zM1109 640h4v1h-4zM1113 641h1v1h-1zM1114 642h1v1h-1zM1115 643h1v1h-1zM1116 644h1v1h-1zM1117 645h1v1h-1zM1118 646h1v1h-1zM1119 647h1v1h-1zM1120 648h1v1h-1zM1121 649h1v1h-1zM1122 650h1v2h-1zM1123 652h1v1h-1zM1124 653h1v1h-1zM1125 654h1v1h-1zM1126 655h1v1h-1zM1127 656h1v1h-1zM1128 657h1v1h-1zM1129 656h2v1h-2zM1131 655h1v1h-1zM1132 654h2v1h-2zM1134 653h1v1h-1zM1135 652h2v1h-2zM1137 653h8v1h-8zM1145 654h4v1h-4zM1149 655h4v1h-4zM1153 654h1v1h-1zM1154 653h1v1h-1zM1155 652h2v1h-2zM1157 651h1v1h-1zM1158 650h1v1h-1zM1159 649h2v1h-2zM1161 650h2v1h-2zM1163 651h2v1h-2zM1165 652h2v1h-2zM1167 653h2v1h-2zM1169 654h8v1h-8zM1177 655h4v1h-4zM1181 656h4v1h-4zM1185 655h1v1h-1zM1186 654h1v1h-1zM1187 653h2v1h-2zM1189 652h1v1h-1zM1190 651h1v1h-1zM1191 650h2v1h-2zM1193 651h4v1h-4zM1197 652h3v1h-3zM1200 651h1v1h-1zM1201 650h1v1h-1zM1202 649h1v1h-1zM1203 648h1v1h-1zM1204 647h1v1h-1zM1205 645h1v2h-1zM1206 644h1v1h-1zM1207 643h1v1h-1zM1208 642h1v1h-1zM1209 641h2v1h-2zM1211 640h1v1h-1zM1212 639h1v1h-1zM1213 638h1v1h-1zM1214 637h1v1h-1zM1215 636h2v1h-2zM1217 637h8v1h-8zM1225 638h4v1h-4zM1229 639h4v1h-4zM1233 640h2v1h-2zM1235 641h3v1h-3zM1238 642h3v1h-3zM1241 643h1v1h-1zM1242 644h1v1h-1zM1243 645h1v1h-1zM1244 646h1v1h-1zM1245 647h1v1h-1zM1246 648h1v1h-1zM1247 649h1v1h-1zM1248 650h1v1h-1zM1249 651h10v1h-10zM1259 650h4v1h-4zM1263 649h2v1h-2zM1265 650h7v1h-7zM1272 648h1v2h-1zM1273 646h1v2h-1zM1274 644h1v2h-1zM1275 642h1v2h-1zM1276 640h1v2h-1zM1277 638h1v2h-1zM1278 636h1v2h-1zM1279 634h1v2h-1zM1280 634h1v1h-1zM1281 633h2v1h-2zM1283 632h2v1h-2zM1285 631h2v1h-2zM1287 630h2v1h-2zM1289 629h2v1h-2zM1291 628h2v1h-2zM1293 627h2v1h-2zM1295 626h2v1h-2zM1297 627h8v1h-8zM1305 626h1v1h-1zM1306 625h1v1h-1zM1307 624h1v1h-1zM1308 623h1v1h-1zM1309 622h1v1h-1zM1310 621h1v1h-1zM1311 620h2v1h-2zM1313 621h1v1h-1zM1314 622h1v1h-1zM1315 623h1v1h-1zM1316 624h1v1h-1zM1317 625h1v1h-1zM1318 626h1v1h-1zM1319 627h8v1h-8zM1327 626h2v1h-2zM1329 627h2v1h-2zM1331 628h2v1h-2zM1333 629h2v1h-2zM1335 630h2v1h-2z" fill="#1e90ff"/></g><g shape-rendering="crispEdges" fill="#000"><rect x="1672" y="61" width="2" height="1"/><rect x="1672" y="110" width="2" height="1"/><rect x="1672" y="159" width="2" height="1"/><rect x="1672" y="208" width="2" height="1"/><rect x="1672" y="257" width="2" height="1"/><rect x="1672" y="306" width="2" height="1"/><rect x="1672" y="355" width="2" height="1"/><rect x="1672" y="404" width="2" height="1"/><rect x="1672" y="453" width="2" height="1"/><rect x="1672" y="502" width="2" height="1"/><rect x="1672" y="525" width="2" height="1"/><rect x="1672" y="553" width="2" height="1"/><rect x="1672" y="581" width="2" height="1"/><rect x="1672" y="586" width="2" height="1"/><rect x="1672" y="708" width="2" height="1"/><rect x="8" y="710" width="1" height="3"/><rect x="104" y="710" width="1" height="3"/><rect x="200" y="710" width="1" height="3"/><rect x="296" y="710" width="1" height="3"/><rect x="392" y="710" width="1" height="3"/><rect x="488" y="710" width="1" height="3"/><rect x="584" y="710" width="1" height="3"/><rect x="680" y="710" width="1" height="3"/><rect x="776" y="710" width="1" height="3"/><rect x="872" y="710" width="1" height="3"/><rect x="968" y="710" width="1" height="3"/><rect x="1064" y="710" width="1" height="3"/><rect x="1160" y="710" width="1" height="3"/><rect x="1256" y="710" width="1" height="3"/></g><g font-family="Liberation Sans, sans-serif" font-size="12.3px" fill="#000"><text x="1678" y="65.6" font-size="12.3px">4043.0</text><text x="1678" y="114.6" font-size="12.3px">3991.0</text><text x="1678" y="163.6" font-size="12.3px">3939.0</text><text x="1678" y="213.6" font-size="12.3px">3888.0</text><text x="1678" y="262.6" font-size="12.3px">3836.0</text><text x="1678" y="311.6" font-size="12.3px">3785.0</text><text x="1678" y="360.6" font-size="12.3px">3733.0</text><text x="1678" y="409.6" font-size="12.3px">3682.0</text><text x="1678" y="458.6" font-size="12.3px">3630.0</text><text x="1678" y="507.6" font-size="12.3px">3578.0</text><text x="1675.2" y="536.6" font-size="12px">58.05</text><text x="1675.2" y="557.6" font-size="12px">0.00</text><text x="1675.2" y="578.6" font-size="12px">-56.94</text><text x="1675.2" y="597.6" font-size="12px">100</text><text x="1674.2" y="626.6" font-size="12px">70</text><text x="1674.2" y="676.6" font-size="12px">30</text><text x="1674.2" y="705.6" font-size="12px">0</text><text x="6.8" y="724.6" textLength="57.7" lengthAdjust="spacingAndGlyphs">4 Jul 2019</text><text x="102.8" y="724.6" textLength="68.5" lengthAdjust="spacingAndGlyphs">12 Jul 05:00</text><text x="198.8" y="724.6" textLength="68.5" lengthAdjust="spacingAndGlyphs">22 Jul 05:00</text><text x="294.8" y="724.6" textLength="68.5" lengthAdjust="spacingAndGlyphs">30 Jul 05:00</text><text x="390.8" y="724.6" textLength="68.1" lengthAdjust="spacingAndGlyphs">7 Aug 05:00</text><text x="486.8" y="724.6" textLength="76.5" lengthAdjust="spacingAndGlyphs">15 Aug 05:00</text><text x="582.8" y="724.6" textLength="76.5" lengthAdjust="spacingAndGlyphs">23 Aug 05:00</text><text x="678.8" y="724.6" textLength="68.1" lengthAdjust="spacingAndGlyphs">2 Sep 05:00</text><text x="774.8" y="724.6" textLength="74.9" lengthAdjust="spacingAndGlyphs">10 Sep 05:00</text><text x="870.8" y="724.6" textLength="74.9" lengthAdjust="spacingAndGlyphs">19 Sep 05:00</text><text x="966.8" y="724.6" textLength="74.9" lengthAdjust="spacingAndGlyphs">27 Sep 05:00</text><text x="1062.8" y="724.6" textLength="74.1" lengthAdjust="spacingAndGlyphs">14 Oct 05:00</text><text x="1158.8" y="724.6" textLength="74.1" lengthAdjust="spacingAndGlyphs">22 Oct 05:00</text><text x="1254.8" y="724.6" textLength="74.1" lengthAdjust="spacingAndGlyphs">30 Oct 05:00</text><text x="26.5" y="56.3" textLength="77.8" lengthAdjust="spacingAndGlyphs">CHINA300-,H4</text><text x="113.2" y="56.3" textLength="167.6" lengthAdjust="spacing">3995.7 3999.0 3968.2 3981.8</text><text x="12.5" y="539.3">MACD(12,26,9) 28.24 15.84</text><text x="12.5" y="600">RSI(14) 62.6027</text></g><path d="M11 54L15.5 49.5L20 54Z" fill="#000"/><g shape-rendering="crispEdges"><rect x="1673" y="62" width="49" height="14" fill="#ff0000"/><rect x="1673" y="110" width="49" height="14" fill="#00ff7f"/><rect x="1673" y="124" width="49" height="2" fill="#000"/><rect x="1673" y="168" width="49" height="14" fill="#0000ff"/><rect x="1673" y="221" width="49" height="14" fill="#0000ff"/></g><g font-family="Liberation Sans, sans-serif" font-size="12px" fill="#fff"><text x="1678" y="73.5" font-size="12.3px">4035.0</text><text x="1678" y="121.5" font-size="12.3px">3985.0</text><text x="1678" y="179.5" font-size="12.3px">3924.0</text><text x="1678" y="232.5" font-size="12.3px">3867.5</text></g></svg>
<!-- one click trading panel -->
<div class="abs" style="left:9px;top:62px;width:287px;height:80px;background:#fff"></div>
<div class="abs" style="left:11px;top:64px;width:283px;height:76px;">
  <div class="abs blu" style="left:0;top:0;width:68px;height:27px;background-position:0 0"></div>
  <div class="abs blu" style="left:215px;top:0;width:68px;height:27px;background-position:0 0"></div>
  <div class="abs blu" style="left:0;top:27px;width:141px;height:49px;background-position:0 -27px"></div>
  <div class="abs blu" style="left:143px;top:27px;width:140px;height:49px;background-position:0 -27px"></div>
  <div class="abs" style="left:141px;top:27px;width:2px;height:49px;background:#f4f4ff"></div>
  <div class="abs" style="left:68px;top:0;width:147px;height:27px;background:#fff"></div>
  <div class="abs" style="left:4px;top:27px;width:60px;height:1px;background:#8c8cf4"></div>
  <div class="abs" style="left:219px;top:27px;width:60px;height:1px;background:#8c8cf4"></div>
  <svg class="abs" style="left:-11px;top:-64px" width="310" height="150"><path d="M11.5 64.5H78.5V91.5H151.5V139.5H11.5ZM226.5 64.5H293.5V139.5H154.5V91.5H226.5Z" fill="none" stroke="#000090" stroke-opacity="0.45"/></svg>
  <div class="abs" style="left:0;top:0.8px;width:68px;height:26px;line-height:26px;text-align:center;color:#fff;font-size:16px;transform:scaleX(0.84)">SELL</div>
  <div class="abs" style="left:215px;top:0.8px;width:68px;height:26px;line-height:26px;text-align:center;color:#fff;font-size:16px;transform:scaleX(0.84)">BUY</div>
  <div class="abs" style="left:70px;top:0px;width:143px;height:25px;box-sizing:border-box;border:1px solid #a8a8a8;background:#fff"></div>
  <div class="abs" style="left:71px;top:1px;width:23px;height:23px;box-sizing:border-box;border:1px solid #c8c8c8;background:linear-gradient(#f2f2f2,#e4e4e4 45%,#d2d2d2 50%,#cfcfcf)"></div>
  <div class="abs" style="left:189px;top:1px;width:23px;height:23px;box-sizing:border-box;border:1px solid #c8c8c8;background:linear-gradient(#f2f2f2,#e4e4e4 45%,#d2d2d2 50%,#cfcfcf)"></div>
  <svg class="abs" style="left:70px;top:0" width="143" height="25"><path d="M8.5 10.5H16.5L12.5 14.5Z" fill="#5468b8"/><path d="M126.5 14.5H134.5L130.5 10.5Z" fill="#5468b8"/></svg>
  <div class="abs" style="left:94px;top:0;width:90px;height:25px;line-height:25px;text-align:right;color:#000;font-size:15px">1.00</div>
  <div class="abs" style="left:30.5px;top:52px;font-size:15.9px;font-weight:bold;color:#fff;line-height:16px">3980</div>
  <div class="abs" style="left:81.4px;top:30px;font-size:42.3px;color:#fff;line-height:42px;transform-origin:0 0;transform:scaleX(0.79)">3</div><div class="abs" style="left:72.3px;top:60.5px;width:4.6px;height:4.6px;background:#fff;border-radius:1px"></div>
  <div class="abs" style="left:172.5px;top:52px;font-size:15.9px;font-weight:bold;color:#fff;line-height:16px">3985</div>
  <div class="abs" style="left:223.9px;top:30px;font-size:42.3px;color:#fff;line-height:42px;transform-origin:0 0;transform:scaleX(0.79)">9</div><div class="abs" style="left:215.2px;top:60.5px;width:4.6px;height:4.6px;background:#fff;border-radius:1px"></div>
</div>
</body></html>
